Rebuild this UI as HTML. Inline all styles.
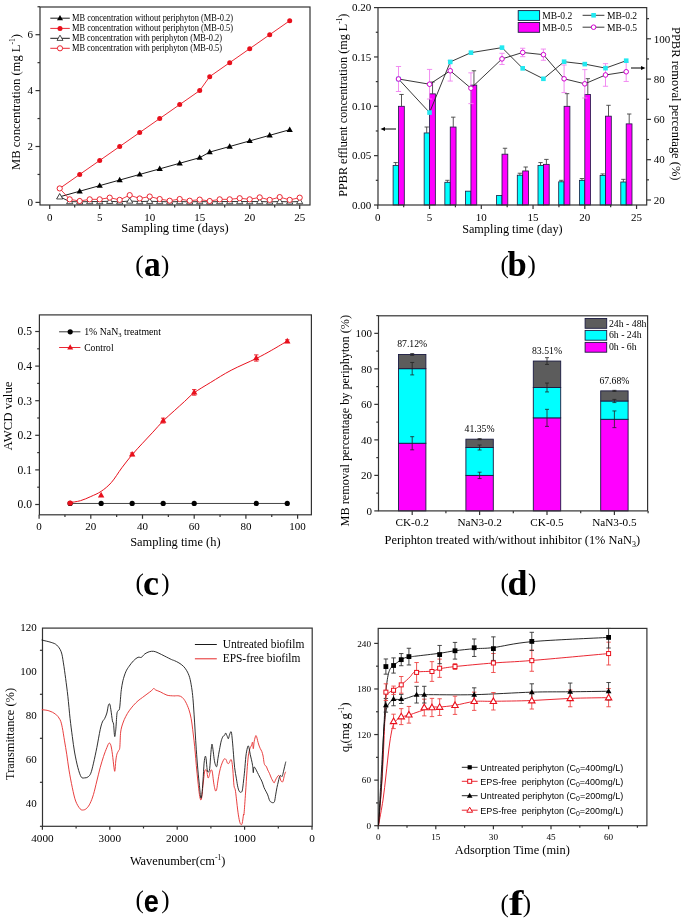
<!DOCTYPE html>
<html><head><meta charset="utf-8"><title>figure</title>
<style>html,body{margin:0;padding:0;background:#fff;}svg{display:block;will-change:transform;}
text{font-family:"Liberation Serif", serif;}</style></head>
<body><svg width="685" height="920" viewBox="0 0 685 920">
<rect x="0" y="0" width="685" height="920" fill="#fff"/>
<rect x="40" y="7" width="270" height="198" fill="none" stroke="#333" stroke-width="1.2"/>
<line x1="35.5" y1="202.4" x2="40" y2="202.4" stroke="#333" stroke-width="1.2"/>
<text x="33" y="206.1" font-size="11" text-anchor="end">0</text>
<line x1="37.5" y1="174.45" x2="40" y2="174.45" stroke="#333" stroke-width="1.2"/>
<line x1="35.5" y1="146.5" x2="40" y2="146.5" stroke="#333" stroke-width="1.2"/>
<text x="33" y="150.2" font-size="11" text-anchor="end">2</text>
<line x1="37.5" y1="118.55" x2="40" y2="118.55" stroke="#333" stroke-width="1.2"/>
<line x1="35.5" y1="90.6" x2="40" y2="90.6" stroke="#333" stroke-width="1.2"/>
<text x="33" y="94.3" font-size="11" text-anchor="end">4</text>
<line x1="37.5" y1="62.65" x2="40" y2="62.65" stroke="#333" stroke-width="1.2"/>
<line x1="35.5" y1="34.7" x2="40" y2="34.7" stroke="#333" stroke-width="1.2"/>
<text x="33" y="38.4" font-size="11" text-anchor="end">6</text>
<line x1="37.5" y1="6.75" x2="40" y2="6.75" stroke="#333" stroke-width="1.2"/>
<line x1="49.7" y1="205" x2="49.7" y2="209" stroke="#333" stroke-width="1.2"/>
<text x="49.7" y="221" font-size="11" text-anchor="middle">0</text>
<line x1="74.7" y1="205" x2="74.7" y2="207.5" stroke="#333" stroke-width="1.2"/>
<line x1="99.7" y1="205" x2="99.7" y2="209" stroke="#333" stroke-width="1.2"/>
<text x="99.7" y="221" font-size="11" text-anchor="middle">5</text>
<line x1="124.7" y1="205" x2="124.7" y2="207.5" stroke="#333" stroke-width="1.2"/>
<line x1="149.7" y1="205" x2="149.7" y2="209" stroke="#333" stroke-width="1.2"/>
<text x="149.7" y="221" font-size="11" text-anchor="middle">10</text>
<line x1="174.7" y1="205" x2="174.7" y2="207.5" stroke="#333" stroke-width="1.2"/>
<line x1="199.7" y1="205" x2="199.7" y2="209" stroke="#333" stroke-width="1.2"/>
<text x="199.7" y="221" font-size="11" text-anchor="middle">15</text>
<line x1="224.7" y1="205" x2="224.7" y2="207.5" stroke="#333" stroke-width="1.2"/>
<line x1="249.7" y1="205" x2="249.7" y2="209" stroke="#333" stroke-width="1.2"/>
<text x="249.7" y="221" font-size="11" text-anchor="middle">20</text>
<line x1="274.7" y1="205" x2="274.7" y2="207.5" stroke="#333" stroke-width="1.2"/>
<line x1="299.7" y1="205" x2="299.7" y2="209" stroke="#333" stroke-width="1.2"/>
<text x="299.7" y="221" font-size="11" text-anchor="middle">25</text>
<text x="175" y="232.3" font-size="12.5" text-anchor="middle" textLength="107.5" lengthAdjust="spacingAndGlyphs">Sampling time (days)</text>
<text x="0" y="0" font-size="12.6" transform="translate(19.6 170) rotate(-90)">MB concentration (mg L<tspan font-size="7.5" dy="-5">-1</tspan><tspan dy="5">)</tspan></text>
<polyline points="59.7,196.81 79.7,191.22 99.7,185.63 119.7,180.04 139.7,174.45 159.7,168.86 179.7,163.27 199.7,157.68 209.7,152.09 229.7,146.5 249.7,140.91 269.7,135.32 289.7,129.73" fill="none" stroke="#000" stroke-width="0.9" stroke-linejoin="round"/>
<polygon points="59.7,193.57 62.8,198.97 56.6,198.97" fill="#000" stroke="none" stroke-width="1" stroke-linejoin="miter"/>
<polygon points="79.7,187.98 82.8,193.38 76.6,193.38" fill="#000" stroke="none" stroke-width="1" stroke-linejoin="miter"/>
<polygon points="99.7,182.39 102.8,187.79 96.6,187.79" fill="#000" stroke="none" stroke-width="1" stroke-linejoin="miter"/>
<polygon points="119.7,176.8 122.8,182.2 116.6,182.2" fill="#000" stroke="none" stroke-width="1" stroke-linejoin="miter"/>
<polygon points="139.7,171.21 142.8,176.61 136.6,176.61" fill="#000" stroke="none" stroke-width="1" stroke-linejoin="miter"/>
<polygon points="159.7,165.62 162.8,171.02 156.6,171.02" fill="#000" stroke="none" stroke-width="1" stroke-linejoin="miter"/>
<polygon points="179.7,160.03 182.8,165.43 176.6,165.43" fill="#000" stroke="none" stroke-width="1" stroke-linejoin="miter"/>
<polygon points="199.7,154.44 202.8,159.84 196.6,159.84" fill="#000" stroke="none" stroke-width="1" stroke-linejoin="miter"/>
<polygon points="209.7,148.85 212.8,154.25 206.6,154.25" fill="#000" stroke="none" stroke-width="1" stroke-linejoin="miter"/>
<polygon points="229.7,143.26 232.8,148.66 226.6,148.66" fill="#000" stroke="none" stroke-width="1" stroke-linejoin="miter"/>
<polygon points="249.7,137.67 252.8,143.07 246.6,143.07" fill="#000" stroke="none" stroke-width="1" stroke-linejoin="miter"/>
<polygon points="269.7,132.08 272.8,137.48 266.6,137.48" fill="#000" stroke="none" stroke-width="1" stroke-linejoin="miter"/>
<polygon points="289.7,126.49 292.8,131.89 286.6,131.89" fill="#000" stroke="none" stroke-width="1" stroke-linejoin="miter"/>
<polyline points="59.7,188.43 79.7,174.45 99.7,160.48 119.7,146.5 139.7,132.53 159.7,118.55 179.7,104.58 199.7,90.6 209.7,76.63 229.7,62.65 249.7,48.68 269.7,34.7 289.7,20.73" fill="none" stroke="#e8101c" stroke-width="0.9" stroke-linejoin="round"/>
<circle cx="59.7" cy="188.43" r="2.5" fill="#e8101c" stroke="none" stroke-width="1"/>
<circle cx="79.7" cy="174.45" r="2.5" fill="#e8101c" stroke="none" stroke-width="1"/>
<circle cx="99.7" cy="160.48" r="2.5" fill="#e8101c" stroke="none" stroke-width="1"/>
<circle cx="119.7" cy="146.5" r="2.5" fill="#e8101c" stroke="none" stroke-width="1"/>
<circle cx="139.7" cy="132.53" r="2.5" fill="#e8101c" stroke="none" stroke-width="1"/>
<circle cx="159.7" cy="118.55" r="2.5" fill="#e8101c" stroke="none" stroke-width="1"/>
<circle cx="179.7" cy="104.58" r="2.5" fill="#e8101c" stroke="none" stroke-width="1"/>
<circle cx="199.7" cy="90.6" r="2.5" fill="#e8101c" stroke="none" stroke-width="1"/>
<circle cx="209.7" cy="76.63" r="2.5" fill="#e8101c" stroke="none" stroke-width="1"/>
<circle cx="229.7" cy="62.65" r="2.5" fill="#e8101c" stroke="none" stroke-width="1"/>
<circle cx="249.7" cy="48.68" r="2.5" fill="#e8101c" stroke="none" stroke-width="1"/>
<circle cx="269.7" cy="34.7" r="2.5" fill="#e8101c" stroke="none" stroke-width="1"/>
<circle cx="289.7" cy="20.73" r="2.5" fill="#e8101c" stroke="none" stroke-width="1"/>
<polyline points="59.7,196.81 69.7,201.56 79.7,201.84 89.7,201.56 99.7,201.56 109.7,201.28 119.7,201.84 129.7,201 139.7,201.56 149.7,201.28 159.7,201.56 169.7,201.84 179.7,201.56 189.7,201.84 199.7,201.56 209.7,201.84 219.7,201.56 229.7,201.56 239.7,201.56 249.7,201.56 259.7,201.56 269.7,201.84 279.7,201.56 289.7,201.84 299.7,201.56" fill="none" stroke="#000" stroke-width="0.8" stroke-linejoin="round"/>
<polygon points="59.7,193.57 62.8,198.97 56.6,198.97" fill="#fff" stroke="#222" stroke-width="0.8" stroke-linejoin="miter"/>
<polygon points="69.7,198.33 72.8,203.72 66.6,203.72" fill="#fff" stroke="#222" stroke-width="0.8" stroke-linejoin="miter"/>
<polygon points="79.7,198.6 82.8,204 76.6,204" fill="#fff" stroke="#222" stroke-width="0.8" stroke-linejoin="miter"/>
<polygon points="89.7,198.33 92.8,203.72 86.6,203.72" fill="#fff" stroke="#222" stroke-width="0.8" stroke-linejoin="miter"/>
<polygon points="99.7,198.33 102.8,203.72 96.6,203.72" fill="#fff" stroke="#222" stroke-width="0.8" stroke-linejoin="miter"/>
<polygon points="109.7,198.05 112.8,203.44 106.6,203.44" fill="#fff" stroke="#222" stroke-width="0.8" stroke-linejoin="miter"/>
<polygon points="119.7,198.6 122.8,204 116.6,204" fill="#fff" stroke="#222" stroke-width="0.8" stroke-linejoin="miter"/>
<polygon points="129.7,197.77 132.8,203.16 126.6,203.16" fill="#fff" stroke="#222" stroke-width="0.8" stroke-linejoin="miter"/>
<polygon points="139.7,198.33 142.8,203.72 136.6,203.72" fill="#fff" stroke="#222" stroke-width="0.8" stroke-linejoin="miter"/>
<polygon points="149.7,198.05 152.8,203.44 146.6,203.44" fill="#fff" stroke="#222" stroke-width="0.8" stroke-linejoin="miter"/>
<polygon points="159.7,198.33 162.8,203.72 156.6,203.72" fill="#fff" stroke="#222" stroke-width="0.8" stroke-linejoin="miter"/>
<polygon points="169.7,198.6 172.8,204 166.6,204" fill="#fff" stroke="#222" stroke-width="0.8" stroke-linejoin="miter"/>
<polygon points="179.7,198.33 182.8,203.72 176.6,203.72" fill="#fff" stroke="#222" stroke-width="0.8" stroke-linejoin="miter"/>
<polygon points="189.7,198.6 192.8,204 186.6,204" fill="#fff" stroke="#222" stroke-width="0.8" stroke-linejoin="miter"/>
<polygon points="199.7,198.33 202.8,203.72 196.6,203.72" fill="#fff" stroke="#222" stroke-width="0.8" stroke-linejoin="miter"/>
<polygon points="209.7,198.6 212.8,204 206.6,204" fill="#fff" stroke="#222" stroke-width="0.8" stroke-linejoin="miter"/>
<polygon points="219.7,198.33 222.8,203.72 216.6,203.72" fill="#fff" stroke="#222" stroke-width="0.8" stroke-linejoin="miter"/>
<polygon points="229.7,198.33 232.8,203.72 226.6,203.72" fill="#fff" stroke="#222" stroke-width="0.8" stroke-linejoin="miter"/>
<polygon points="239.7,198.33 242.8,203.72 236.6,203.72" fill="#fff" stroke="#222" stroke-width="0.8" stroke-linejoin="miter"/>
<polygon points="249.7,198.33 252.8,203.72 246.6,203.72" fill="#fff" stroke="#222" stroke-width="0.8" stroke-linejoin="miter"/>
<polygon points="259.7,198.33 262.8,203.72 256.6,203.72" fill="#fff" stroke="#222" stroke-width="0.8" stroke-linejoin="miter"/>
<polygon points="269.7,198.6 272.8,204 266.6,204" fill="#fff" stroke="#222" stroke-width="0.8" stroke-linejoin="miter"/>
<polygon points="279.7,198.33 282.8,203.72 276.6,203.72" fill="#fff" stroke="#222" stroke-width="0.8" stroke-linejoin="miter"/>
<polygon points="289.7,198.6 292.8,204 286.6,204" fill="#fff" stroke="#222" stroke-width="0.8" stroke-linejoin="miter"/>
<polygon points="299.7,198.33 302.8,203.72 296.6,203.72" fill="#fff" stroke="#222" stroke-width="0.8" stroke-linejoin="miter"/>
<polyline points="59.7,188.43 69.7,199.33 79.7,201 89.7,199.33 99.7,199.33 109.7,197.65 119.7,199.88 129.7,195.13 139.7,198.49 149.7,196.53 159.7,199.05 169.7,200.72 179.7,199.05 189.7,200.72 199.7,199.61 209.7,201 219.7,199.33 229.7,199.33 239.7,198.21 249.7,199.33 259.7,197.37 269.7,199.88 279.7,197.09 289.7,199.88 299.7,197.65" fill="none" stroke="#e8101c" stroke-width="0.8" stroke-linejoin="round"/>
<circle cx="59.7" cy="188.43" r="2.6" fill="#fff" stroke="#e8101c" stroke-width="0.9"/>
<circle cx="69.7" cy="199.33" r="2.6" fill="#fff" stroke="#e8101c" stroke-width="0.9"/>
<circle cx="79.7" cy="201" r="2.6" fill="#fff" stroke="#e8101c" stroke-width="0.9"/>
<circle cx="89.7" cy="199.33" r="2.6" fill="#fff" stroke="#e8101c" stroke-width="0.9"/>
<circle cx="99.7" cy="199.33" r="2.6" fill="#fff" stroke="#e8101c" stroke-width="0.9"/>
<circle cx="109.7" cy="197.65" r="2.6" fill="#fff" stroke="#e8101c" stroke-width="0.9"/>
<circle cx="119.7" cy="199.88" r="2.6" fill="#fff" stroke="#e8101c" stroke-width="0.9"/>
<circle cx="129.7" cy="195.13" r="2.6" fill="#fff" stroke="#e8101c" stroke-width="0.9"/>
<circle cx="139.7" cy="198.49" r="2.6" fill="#fff" stroke="#e8101c" stroke-width="0.9"/>
<circle cx="149.7" cy="196.53" r="2.6" fill="#fff" stroke="#e8101c" stroke-width="0.9"/>
<circle cx="159.7" cy="199.05" r="2.6" fill="#fff" stroke="#e8101c" stroke-width="0.9"/>
<circle cx="169.7" cy="200.72" r="2.6" fill="#fff" stroke="#e8101c" stroke-width="0.9"/>
<circle cx="179.7" cy="199.05" r="2.6" fill="#fff" stroke="#e8101c" stroke-width="0.9"/>
<circle cx="189.7" cy="200.72" r="2.6" fill="#fff" stroke="#e8101c" stroke-width="0.9"/>
<circle cx="199.7" cy="199.61" r="2.6" fill="#fff" stroke="#e8101c" stroke-width="0.9"/>
<circle cx="209.7" cy="201" r="2.6" fill="#fff" stroke="#e8101c" stroke-width="0.9"/>
<circle cx="219.7" cy="199.33" r="2.6" fill="#fff" stroke="#e8101c" stroke-width="0.9"/>
<circle cx="229.7" cy="199.33" r="2.6" fill="#fff" stroke="#e8101c" stroke-width="0.9"/>
<circle cx="239.7" cy="198.21" r="2.6" fill="#fff" stroke="#e8101c" stroke-width="0.9"/>
<circle cx="249.7" cy="199.33" r="2.6" fill="#fff" stroke="#e8101c" stroke-width="0.9"/>
<circle cx="259.7" cy="197.37" r="2.6" fill="#fff" stroke="#e8101c" stroke-width="0.9"/>
<circle cx="269.7" cy="199.88" r="2.6" fill="#fff" stroke="#e8101c" stroke-width="0.9"/>
<circle cx="279.7" cy="197.09" r="2.6" fill="#fff" stroke="#e8101c" stroke-width="0.9"/>
<circle cx="289.7" cy="199.88" r="2.6" fill="#fff" stroke="#e8101c" stroke-width="0.9"/>
<circle cx="299.7" cy="197.65" r="2.6" fill="#fff" stroke="#e8101c" stroke-width="0.9"/>
<line x1="50.3" y1="18.2" x2="69.8" y2="18.2" stroke="#000" stroke-width="0.9"/>
<polygon points="60,15.07 63,20.29 57,20.29" fill="#000" stroke="none" stroke-width="1" stroke-linejoin="miter"/>
<text x="72" y="20.6" font-size="9.7" textLength="161" lengthAdjust="spacingAndGlyphs">MB concentration without periphyton (MB-0.2)</text>
<line x1="50.3" y1="28.4" x2="69.8" y2="28.4" stroke="#e8101c" stroke-width="0.9"/>
<circle cx="60" cy="28.4" r="2.5" fill="#e8101c" stroke="none" stroke-width="1"/>
<text x="72" y="30.8" font-size="9.7" textLength="161" lengthAdjust="spacingAndGlyphs">MB concentration without periphyton (MB-0.5)</text>
<line x1="50.3" y1="38.3" x2="69.8" y2="38.3" stroke="#000" stroke-width="0.9"/>
<polygon points="60,35.17 63,40.39 57,40.39" fill="#fff" stroke="#222" stroke-width="0.8" stroke-linejoin="miter"/>
<text x="72" y="40.7" font-size="9.7" textLength="150" lengthAdjust="spacingAndGlyphs">MB concentration with periphyton (MB-0.2)</text>
<line x1="50.3" y1="48.3" x2="69.8" y2="48.3" stroke="#e8101c" stroke-width="0.9"/>
<circle cx="60" cy="48.3" r="2.6" fill="#fff" stroke="#e8101c" stroke-width="0.9"/>
<text x="72" y="50.7" font-size="9.7" textLength="150" lengthAdjust="spacingAndGlyphs">MB concentration with periphyton (MB-0.5)</text>
<text x="135.2" y="273.3" font-size="25">(</text>
<text x="161" y="273.3" font-size="25">)</text>
<text x="0" y="0" font-size="36" font-weight="bold" transform="translate(143.9 276) scale(0.93 1)">a</text>
<rect x="393.1" y="165.52" width="5.4" height="39.48" fill="#00ffff" stroke="#1a1a40" stroke-width="0.8"/>
<rect x="398.5" y="106.3" width="5.8" height="98.7" fill="#ff00ff" stroke="#1a1a40" stroke-width="0.8"/>
<line x1="395.65" y1="165.52" x2="395.65" y2="162.56" stroke="#444" stroke-width="0.9"/>
<line x1="393.5" y1="162.56" x2="397.8" y2="162.56" stroke="#444" stroke-width="0.9"/>
<line x1="401.5" y1="106.3" x2="401.5" y2="94.46" stroke="#444" stroke-width="0.9"/>
<line x1="399.3" y1="94.46" x2="403.7" y2="94.46" stroke="#444" stroke-width="0.9"/>
<rect x="424.15" y="132.95" width="5.4" height="72.05" fill="#00ffff" stroke="#1a1a40" stroke-width="0.8"/>
<rect x="429.55" y="93.86" width="5.8" height="111.14" fill="#ff00ff" stroke="#1a1a40" stroke-width="0.8"/>
<line x1="426.7" y1="132.95" x2="426.7" y2="127.03" stroke="#444" stroke-width="0.9"/>
<line x1="424.55" y1="127.03" x2="428.85" y2="127.03" stroke="#444" stroke-width="0.9"/>
<line x1="432.55" y1="93.86" x2="432.55" y2="82.02" stroke="#444" stroke-width="0.9"/>
<line x1="430.35" y1="82.02" x2="434.75" y2="82.02" stroke="#444" stroke-width="0.9"/>
<rect x="444.85" y="182.3" width="5.4" height="22.7" fill="#00ffff" stroke="#1a1a40" stroke-width="0.8"/>
<rect x="450.25" y="127.03" width="5.8" height="77.97" fill="#ff00ff" stroke="#1a1a40" stroke-width="0.8"/>
<line x1="447.4" y1="182.3" x2="447.4" y2="180.32" stroke="#444" stroke-width="0.9"/>
<line x1="445.25" y1="180.32" x2="449.55" y2="180.32" stroke="#444" stroke-width="0.9"/>
<line x1="453.25" y1="127.03" x2="453.25" y2="117.16" stroke="#444" stroke-width="0.9"/>
<line x1="451.05" y1="117.16" x2="455.45" y2="117.16" stroke="#444" stroke-width="0.9"/>
<rect x="465.55" y="191.18" width="5.4" height="13.82" fill="#00ffff" stroke="#1a1a40" stroke-width="0.8"/>
<rect x="470.95" y="85.08" width="5.8" height="119.92" fill="#ff00ff" stroke="#1a1a40" stroke-width="0.8"/>
<line x1="473.95" y1="85.08" x2="473.95" y2="70.77" stroke="#444" stroke-width="0.9"/>
<line x1="471.75" y1="70.77" x2="476.15" y2="70.77" stroke="#444" stroke-width="0.9"/>
<rect x="496.6" y="195.52" width="5.4" height="9.48" fill="#00ffff" stroke="#1a1a40" stroke-width="0.8"/>
<rect x="502" y="154.17" width="5.8" height="50.83" fill="#ff00ff" stroke="#1a1a40" stroke-width="0.8"/>
<line x1="505" y1="154.17" x2="505" y2="148.25" stroke="#444" stroke-width="0.9"/>
<line x1="502.8" y1="148.25" x2="507.2" y2="148.25" stroke="#444" stroke-width="0.9"/>
<rect x="517.3" y="175.19" width="5.4" height="29.81" fill="#00ffff" stroke="#1a1a40" stroke-width="0.8"/>
<rect x="522.7" y="170.95" width="5.8" height="34.05" fill="#ff00ff" stroke="#1a1a40" stroke-width="0.8"/>
<line x1="519.85" y1="175.19" x2="519.85" y2="173.22" stroke="#444" stroke-width="0.9"/>
<line x1="517.7" y1="173.22" x2="522" y2="173.22" stroke="#444" stroke-width="0.9"/>
<line x1="525.7" y1="170.95" x2="525.7" y2="167" stroke="#444" stroke-width="0.9"/>
<line x1="523.5" y1="167" x2="527.9" y2="167" stroke="#444" stroke-width="0.9"/>
<rect x="538" y="165.52" width="5.4" height="39.48" fill="#00ffff" stroke="#1a1a40" stroke-width="0.8"/>
<rect x="543.4" y="164.34" width="5.8" height="40.66" fill="#ff00ff" stroke="#1a1a40" stroke-width="0.8"/>
<line x1="540.55" y1="165.52" x2="540.55" y2="162.56" stroke="#444" stroke-width="0.9"/>
<line x1="538.4" y1="162.56" x2="542.7" y2="162.56" stroke="#444" stroke-width="0.9"/>
<line x1="546.4" y1="164.34" x2="546.4" y2="159.4" stroke="#444" stroke-width="0.9"/>
<line x1="544.2" y1="159.4" x2="548.6" y2="159.4" stroke="#444" stroke-width="0.9"/>
<rect x="558.7" y="181.81" width="5.4" height="23.19" fill="#00ffff" stroke="#1a1a40" stroke-width="0.8"/>
<rect x="564.1" y="106.3" width="5.8" height="98.7" fill="#ff00ff" stroke="#1a1a40" stroke-width="0.8"/>
<line x1="561.25" y1="181.81" x2="561.25" y2="180.32" stroke="#444" stroke-width="0.9"/>
<line x1="559.1" y1="180.32" x2="563.4" y2="180.32" stroke="#444" stroke-width="0.9"/>
<line x1="567.1" y1="106.3" x2="567.1" y2="93.67" stroke="#444" stroke-width="0.9"/>
<line x1="564.9" y1="93.67" x2="569.3" y2="93.67" stroke="#444" stroke-width="0.9"/>
<rect x="579.4" y="180.32" width="5.4" height="24.68" fill="#00ffff" stroke="#1a1a40" stroke-width="0.8"/>
<rect x="584.8" y="94.46" width="5.8" height="110.54" fill="#ff00ff" stroke="#1a1a40" stroke-width="0.8"/>
<line x1="581.95" y1="180.32" x2="581.95" y2="178.55" stroke="#444" stroke-width="0.9"/>
<line x1="579.8" y1="178.55" x2="584.1" y2="178.55" stroke="#444" stroke-width="0.9"/>
<line x1="587.8" y1="94.46" x2="587.8" y2="78.66" stroke="#444" stroke-width="0.9"/>
<line x1="585.6" y1="78.66" x2="590" y2="78.66" stroke="#444" stroke-width="0.9"/>
<rect x="600.1" y="175.39" width="5.4" height="29.61" fill="#00ffff" stroke="#1a1a40" stroke-width="0.8"/>
<rect x="605.5" y="116.17" width="5.8" height="88.83" fill="#ff00ff" stroke="#1a1a40" stroke-width="0.8"/>
<line x1="602.65" y1="175.39" x2="602.65" y2="173.91" stroke="#444" stroke-width="0.9"/>
<line x1="600.5" y1="173.91" x2="604.8" y2="173.91" stroke="#444" stroke-width="0.9"/>
<line x1="608.5" y1="116.17" x2="608.5" y2="105.31" stroke="#444" stroke-width="0.9"/>
<line x1="606.3" y1="105.31" x2="610.7" y2="105.31" stroke="#444" stroke-width="0.9"/>
<rect x="620.8" y="182" width="5.4" height="23" fill="#00ffff" stroke="#1a1a40" stroke-width="0.8"/>
<rect x="626.2" y="123.87" width="5.8" height="81.13" fill="#ff00ff" stroke="#1a1a40" stroke-width="0.8"/>
<line x1="623.35" y1="182" x2="623.35" y2="179.34" stroke="#444" stroke-width="0.9"/>
<line x1="621.2" y1="179.34" x2="625.5" y2="179.34" stroke="#444" stroke-width="0.9"/>
<line x1="629.2" y1="123.87" x2="629.2" y2="114" stroke="#444" stroke-width="0.9"/>
<line x1="627" y1="114" x2="631.4" y2="114" stroke="#444" stroke-width="0.9"/>
<line x1="398.5" y1="66.49" x2="398.5" y2="91.49" stroke="#f080f0" stroke-width="0.9"/>
<line x1="395.9" y1="66.49" x2="401.1" y2="66.49" stroke="#f080f0" stroke-width="0.9"/>
<line x1="395.9" y1="91.49" x2="401.1" y2="91.49" stroke="#f080f0" stroke-width="0.9"/>
<line x1="429.55" y1="69.42" x2="429.55" y2="99.02" stroke="#f080f0" stroke-width="0.9"/>
<line x1="426.95" y1="69.42" x2="432.15" y2="69.42" stroke="#f080f0" stroke-width="0.9"/>
<line x1="426.95" y1="99.02" x2="432.15" y2="99.02" stroke="#f080f0" stroke-width="0.9"/>
<line x1="450.25" y1="60.45" x2="450.25" y2="81.05" stroke="#f080f0" stroke-width="0.9"/>
<line x1="447.65" y1="60.45" x2="452.85" y2="60.45" stroke="#f080f0" stroke-width="0.9"/>
<line x1="447.65" y1="81.05" x2="452.85" y2="81.05" stroke="#f080f0" stroke-width="0.9"/>
<line x1="470.95" y1="72.84" x2="470.95" y2="103.64" stroke="#f080f0" stroke-width="0.9"/>
<line x1="468.35" y1="72.84" x2="473.55" y2="72.84" stroke="#f080f0" stroke-width="0.9"/>
<line x1="468.35" y1="103.64" x2="473.55" y2="103.64" stroke="#f080f0" stroke-width="0.9"/>
<line x1="502" y1="53.29" x2="502" y2="64.49" stroke="#f080f0" stroke-width="0.9"/>
<line x1="499.4" y1="53.29" x2="504.6" y2="53.29" stroke="#f080f0" stroke-width="0.9"/>
<line x1="499.4" y1="64.49" x2="504.6" y2="64.49" stroke="#f080f0" stroke-width="0.9"/>
<line x1="522.7" y1="48.26" x2="522.7" y2="56.66" stroke="#f080f0" stroke-width="0.9"/>
<line x1="520.1" y1="48.26" x2="525.3" y2="48.26" stroke="#f080f0" stroke-width="0.9"/>
<line x1="520.1" y1="56.66" x2="525.3" y2="56.66" stroke="#f080f0" stroke-width="0.9"/>
<line x1="543.4" y1="49.07" x2="543.4" y2="60.27" stroke="#f080f0" stroke-width="0.9"/>
<line x1="540.8" y1="49.07" x2="546" y2="49.07" stroke="#f080f0" stroke-width="0.9"/>
<line x1="540.8" y1="60.27" x2="546" y2="60.27" stroke="#f080f0" stroke-width="0.9"/>
<line x1="564.1" y1="64.99" x2="564.1" y2="92.59" stroke="#f080f0" stroke-width="0.9"/>
<line x1="561.5" y1="64.99" x2="566.7" y2="64.99" stroke="#f080f0" stroke-width="0.9"/>
<line x1="561.5" y1="92.59" x2="566.7" y2="92.59" stroke="#f080f0" stroke-width="0.9"/>
<line x1="584.8" y1="69.62" x2="584.8" y2="98.02" stroke="#f080f0" stroke-width="0.9"/>
<line x1="582.2" y1="69.62" x2="587.4" y2="69.62" stroke="#f080f0" stroke-width="0.9"/>
<line x1="582.2" y1="98.02" x2="587.4" y2="98.02" stroke="#f080f0" stroke-width="0.9"/>
<line x1="605.5" y1="63.67" x2="605.5" y2="86.27" stroke="#f080f0" stroke-width="0.9"/>
<line x1="602.9" y1="63.67" x2="608.1" y2="63.67" stroke="#f080f0" stroke-width="0.9"/>
<line x1="602.9" y1="86.27" x2="608.1" y2="86.27" stroke="#f080f0" stroke-width="0.9"/>
<line x1="626.2" y1="62.06" x2="626.2" y2="81.46" stroke="#f080f0" stroke-width="0.9"/>
<line x1="623.6" y1="62.06" x2="628.8" y2="62.06" stroke="#f080f0" stroke-width="0.9"/>
<line x1="623.6" y1="81.46" x2="628.8" y2="81.46" stroke="#f080f0" stroke-width="0.9"/>
<polyline points="398.5,78.99 429.55,112.56 450.25,61.91 470.95,52.66 502,47.64 522.7,68.34 543.4,78.79 564.1,61.71 584.8,64.12 605.5,68.14 626.2,60.7" fill="none" stroke="#222" stroke-width="0.9" stroke-linejoin="round"/>
<polyline points="398.5,78.99 429.55,84.22 450.25,70.75 470.95,88.24 502,58.89 522.7,52.46 543.4,54.67 564.1,78.79 584.8,83.82 605.5,74.97 626.2,71.76" fill="none" stroke="#222" stroke-width="0.9" stroke-linejoin="round"/>
<rect x="396.2" y="76.69" width="4.6" height="4.6" fill="#22e8f0" stroke="none" stroke-width="1"/>
<rect x="427.25" y="110.26" width="4.6" height="4.6" fill="#22e8f0" stroke="none" stroke-width="1"/>
<rect x="447.95" y="59.61" width="4.6" height="4.6" fill="#22e8f0" stroke="none" stroke-width="1"/>
<rect x="468.65" y="50.36" width="4.6" height="4.6" fill="#22e8f0" stroke="none" stroke-width="1"/>
<rect x="499.7" y="45.34" width="4.6" height="4.6" fill="#22e8f0" stroke="none" stroke-width="1"/>
<rect x="520.4" y="66.04" width="4.6" height="4.6" fill="#22e8f0" stroke="none" stroke-width="1"/>
<rect x="541.1" y="76.49" width="4.6" height="4.6" fill="#22e8f0" stroke="none" stroke-width="1"/>
<rect x="561.8" y="59.41" width="4.6" height="4.6" fill="#22e8f0" stroke="none" stroke-width="1"/>
<rect x="582.5" y="61.82" width="4.6" height="4.6" fill="#22e8f0" stroke="none" stroke-width="1"/>
<rect x="603.2" y="65.84" width="4.6" height="4.6" fill="#22e8f0" stroke="none" stroke-width="1"/>
<rect x="623.9" y="58.4" width="4.6" height="4.6" fill="#22e8f0" stroke="none" stroke-width="1"/>
<circle cx="398.5" cy="78.99" r="2.3" fill="#fff" stroke="#d000d0" stroke-width="1"/>
<circle cx="429.55" cy="84.22" r="2.3" fill="#fff" stroke="#d000d0" stroke-width="1"/>
<circle cx="450.25" cy="70.75" r="2.3" fill="#fff" stroke="#d000d0" stroke-width="1"/>
<circle cx="470.95" cy="88.24" r="2.3" fill="#fff" stroke="#d000d0" stroke-width="1"/>
<circle cx="502" cy="58.89" r="2.3" fill="#fff" stroke="#d000d0" stroke-width="1"/>
<circle cx="522.7" cy="52.46" r="2.3" fill="#fff" stroke="#d000d0" stroke-width="1"/>
<circle cx="543.4" cy="54.67" r="2.3" fill="#fff" stroke="#d000d0" stroke-width="1"/>
<circle cx="564.1" cy="78.79" r="2.3" fill="#fff" stroke="#d000d0" stroke-width="1"/>
<circle cx="584.8" cy="83.82" r="2.3" fill="#fff" stroke="#d000d0" stroke-width="1"/>
<circle cx="605.5" cy="74.97" r="2.3" fill="#fff" stroke="#d000d0" stroke-width="1"/>
<circle cx="626.2" cy="71.76" r="2.3" fill="#fff" stroke="#d000d0" stroke-width="1"/>
<rect x="378" y="7.6" width="268.7" height="197.4" fill="none" stroke="#333" stroke-width="1.2"/>
<line x1="374" y1="205" x2="378" y2="205" stroke="#333" stroke-width="1.2"/>
<text x="371.2" y="208.7" font-size="11" text-anchor="end">0.00</text>
<line x1="375.8" y1="180.32" x2="378" y2="180.32" stroke="#333" stroke-width="1.2"/>
<line x1="374" y1="155.65" x2="378" y2="155.65" stroke="#333" stroke-width="1.2"/>
<text x="371.2" y="159.35" font-size="11" text-anchor="end">0.05</text>
<line x1="375.8" y1="130.97" x2="378" y2="130.97" stroke="#333" stroke-width="1.2"/>
<line x1="374" y1="106.3" x2="378" y2="106.3" stroke="#333" stroke-width="1.2"/>
<text x="371.2" y="110" font-size="11" text-anchor="end">0.10</text>
<line x1="375.8" y1="81.62" x2="378" y2="81.62" stroke="#333" stroke-width="1.2"/>
<line x1="374" y1="56.95" x2="378" y2="56.95" stroke="#333" stroke-width="1.2"/>
<text x="371.2" y="60.65" font-size="11" text-anchor="end">0.15</text>
<line x1="375.8" y1="32.27" x2="378" y2="32.27" stroke="#333" stroke-width="1.2"/>
<line x1="374" y1="7.6" x2="378" y2="7.6" stroke="#333" stroke-width="1.2"/>
<text x="371.2" y="11.3" font-size="11" text-anchor="end">0.20</text>
<line x1="646.7" y1="200" x2="651" y2="200" stroke="#333" stroke-width="1.2"/>
<text x="653.8" y="203.7" font-size="11">20</text>
<line x1="646.7" y1="179.85" x2="649" y2="179.85" stroke="#333" stroke-width="1.2"/>
<line x1="646.7" y1="159.7" x2="651" y2="159.7" stroke="#333" stroke-width="1.2"/>
<text x="653.8" y="163.4" font-size="11">40</text>
<line x1="646.7" y1="139.55" x2="649" y2="139.55" stroke="#333" stroke-width="1.2"/>
<line x1="646.7" y1="119.4" x2="651" y2="119.4" stroke="#333" stroke-width="1.2"/>
<text x="653.8" y="123.1" font-size="11">60</text>
<line x1="646.7" y1="99.25" x2="649" y2="99.25" stroke="#333" stroke-width="1.2"/>
<line x1="646.7" y1="79.1" x2="651" y2="79.1" stroke="#333" stroke-width="1.2"/>
<text x="653.8" y="82.8" font-size="11">80</text>
<line x1="646.7" y1="58.95" x2="649" y2="58.95" stroke="#333" stroke-width="1.2"/>
<line x1="646.7" y1="38.8" x2="651" y2="38.8" stroke="#333" stroke-width="1.2"/>
<text x="653.8" y="42.5" font-size="11">100</text>
<line x1="646.7" y1="18.65" x2="649" y2="18.65" stroke="#333" stroke-width="1.2"/>
<line x1="377.8" y1="205" x2="377.8" y2="209" stroke="#333" stroke-width="1.2"/>
<text x="377.8" y="220.7" font-size="11" text-anchor="middle">0</text>
<line x1="403.68" y1="205" x2="403.68" y2="207.3" stroke="#333" stroke-width="1.2"/>
<line x1="429.55" y1="205" x2="429.55" y2="209" stroke="#333" stroke-width="1.2"/>
<text x="429.55" y="220.7" font-size="11" text-anchor="middle">5</text>
<line x1="455.43" y1="205" x2="455.43" y2="207.3" stroke="#333" stroke-width="1.2"/>
<line x1="481.3" y1="205" x2="481.3" y2="209" stroke="#333" stroke-width="1.2"/>
<text x="481.3" y="220.7" font-size="11" text-anchor="middle">10</text>
<line x1="507.18" y1="205" x2="507.18" y2="207.3" stroke="#333" stroke-width="1.2"/>
<line x1="533.05" y1="205" x2="533.05" y2="209" stroke="#333" stroke-width="1.2"/>
<text x="533.05" y="220.7" font-size="11" text-anchor="middle">15</text>
<line x1="558.92" y1="205" x2="558.92" y2="207.3" stroke="#333" stroke-width="1.2"/>
<line x1="584.8" y1="205" x2="584.8" y2="209" stroke="#333" stroke-width="1.2"/>
<text x="584.8" y="220.7" font-size="11" text-anchor="middle">20</text>
<line x1="610.67" y1="205" x2="610.67" y2="207.3" stroke="#333" stroke-width="1.2"/>
<line x1="636.55" y1="205" x2="636.55" y2="209" stroke="#333" stroke-width="1.2"/>
<text x="636.55" y="220.7" font-size="11" text-anchor="middle">25</text>
<text x="512.4" y="233.2" font-size="12.3" text-anchor="middle" textLength="100.5" lengthAdjust="spacingAndGlyphs">Sampling time (day)</text>
<text x="0" y="0" font-size="12.2" transform="translate(347.2 196.8) rotate(-90)">PPBR effluent concentration (mg L<tspan font-size="7.3" dy="-5">-1</tspan><tspan dy="5">)</tspan></text>
<text x="671.9" y="27" font-size="12.5" textLength="153.5" lengthAdjust="spacingAndGlyphs" transform="rotate(90 671.9 27)">PPBR removal percentage (%)</text>
<line x1="383" y1="129" x2="396" y2="129" stroke="#000" stroke-width="1"/>
<polygon points="380.5,129 385,127 385,131" fill="#000"/>
<line x1="631" y1="68" x2="642" y2="68" stroke="#000" stroke-width="1"/>
<polygon points="645.5,68 641,66 641,70" fill="#000"/>
<rect x="518.2" y="10.6" width="21.4" height="9.8" fill="#00ffff" stroke="#1a1a40" stroke-width="0.9"/>
<rect x="518.2" y="22.5" width="21.4" height="9.8" fill="#ff00ff" stroke="#1a1a40" stroke-width="0.9"/>
<text x="542.3" y="18.9" font-size="9.7" textLength="30" lengthAdjust="spacingAndGlyphs">MB-0.2</text>
<text x="542.3" y="30.8" font-size="9.7" textLength="30" lengthAdjust="spacingAndGlyphs">MB-0.5</text>
<line x1="582.6" y1="15.3" x2="604.4" y2="15.3" stroke="#222" stroke-width="0.9"/>
<rect x="591.3" y="13" width="4.6" height="4.6" fill="#22e8f0" stroke="none" stroke-width="1"/>
<text x="607.1" y="18.9" font-size="9.7" textLength="30" lengthAdjust="spacingAndGlyphs">MB-0.2</text>
<line x1="582.6" y1="27.2" x2="604.4" y2="27.2" stroke="#222" stroke-width="0.9"/>
<circle cx="593.6" cy="27.2" r="2.3" fill="#fff" stroke="#d000d0" stroke-width="1"/>
<text x="607.1" y="30.8" font-size="9.7" textLength="30" lengthAdjust="spacingAndGlyphs">MB-0.5</text>
<text x="500.4" y="273.3" font-size="25">(</text>
<text x="527.6" y="273.3" font-size="25">)</text>
<text x="0" y="0" font-size="36" font-weight="bold" transform="translate(507.4 276.3) scale(0.96 1)">b</text>
<rect x="39.4" y="314.9" width="272" height="199.9" fill="none" stroke="#333" stroke-width="1.2"/>
<line x1="35.2" y1="504.5" x2="39.4" y2="504.5" stroke="#333" stroke-width="1.2"/>
<text x="32" y="508.3" font-size="11.6" text-anchor="end">0.0</text>
<line x1="37.2" y1="487.2" x2="39.4" y2="487.2" stroke="#333" stroke-width="1.2"/>
<line x1="35.2" y1="469.9" x2="39.4" y2="469.9" stroke="#333" stroke-width="1.2"/>
<text x="32" y="473.7" font-size="11.6" text-anchor="end">0.1</text>
<line x1="37.2" y1="452.6" x2="39.4" y2="452.6" stroke="#333" stroke-width="1.2"/>
<line x1="35.2" y1="435.3" x2="39.4" y2="435.3" stroke="#333" stroke-width="1.2"/>
<text x="32" y="439.1" font-size="11.6" text-anchor="end">0.2</text>
<line x1="37.2" y1="418" x2="39.4" y2="418" stroke="#333" stroke-width="1.2"/>
<line x1="35.2" y1="400.7" x2="39.4" y2="400.7" stroke="#333" stroke-width="1.2"/>
<text x="32" y="404.5" font-size="11.6" text-anchor="end">0.3</text>
<line x1="37.2" y1="383.4" x2="39.4" y2="383.4" stroke="#333" stroke-width="1.2"/>
<line x1="35.2" y1="366.1" x2="39.4" y2="366.1" stroke="#333" stroke-width="1.2"/>
<text x="32" y="369.9" font-size="11.6" text-anchor="end">0.4</text>
<line x1="37.2" y1="348.8" x2="39.4" y2="348.8" stroke="#333" stroke-width="1.2"/>
<line x1="35.2" y1="331.5" x2="39.4" y2="331.5" stroke="#333" stroke-width="1.2"/>
<text x="32" y="335.3" font-size="11.6" text-anchor="end">0.5</text>
<line x1="39.1" y1="514.8" x2="39.1" y2="518.8" stroke="#333" stroke-width="1.2"/>
<text x="39.1" y="530.4" font-size="11" text-anchor="middle">0</text>
<line x1="64.95" y1="514.8" x2="64.95" y2="517.1" stroke="#333" stroke-width="1.2"/>
<line x1="90.8" y1="514.8" x2="90.8" y2="518.8" stroke="#333" stroke-width="1.2"/>
<text x="90.8" y="530.4" font-size="11" text-anchor="middle">20</text>
<line x1="116.65" y1="514.8" x2="116.65" y2="517.1" stroke="#333" stroke-width="1.2"/>
<line x1="142.5" y1="514.8" x2="142.5" y2="518.8" stroke="#333" stroke-width="1.2"/>
<text x="142.5" y="530.4" font-size="11" text-anchor="middle">40</text>
<line x1="168.35" y1="514.8" x2="168.35" y2="517.1" stroke="#333" stroke-width="1.2"/>
<line x1="194.2" y1="514.8" x2="194.2" y2="518.8" stroke="#333" stroke-width="1.2"/>
<text x="194.2" y="530.4" font-size="11" text-anchor="middle">60</text>
<line x1="220.05" y1="514.8" x2="220.05" y2="517.1" stroke="#333" stroke-width="1.2"/>
<line x1="245.9" y1="514.8" x2="245.9" y2="518.8" stroke="#333" stroke-width="1.2"/>
<text x="245.9" y="530.4" font-size="11" text-anchor="middle">80</text>
<line x1="271.75" y1="514.8" x2="271.75" y2="517.1" stroke="#333" stroke-width="1.2"/>
<line x1="297.6" y1="514.8" x2="297.6" y2="518.8" stroke="#333" stroke-width="1.2"/>
<text x="297.6" y="530.4" font-size="11" text-anchor="middle">100</text>
<text x="175.4" y="546.4" font-size="12.4" text-anchor="middle" textLength="90.4" lengthAdjust="spacingAndGlyphs">Sampling time (h)</text>
<text x="12.4" y="416" font-size="12.6" text-anchor="middle" textLength="69" lengthAdjust="spacingAndGlyphs" transform="rotate(-90 12.4 416)">AWCD value</text>
<polyline points="70.12,503.46 101.14,503.46 132.16,503.46 163.18,503.46 194.2,503.46 256.24,503.46 287.26,503.46" fill="none" stroke="#444" stroke-width="1" stroke-linejoin="round"/>
<circle cx="70.12" cy="503.46" r="2.6" fill="#000" stroke="none" stroke-width="1"/>
<circle cx="101.14" cy="503.46" r="2.6" fill="#000" stroke="none" stroke-width="1"/>
<circle cx="132.16" cy="503.46" r="2.6" fill="#000" stroke="none" stroke-width="1"/>
<circle cx="163.18" cy="503.46" r="2.6" fill="#000" stroke="none" stroke-width="1"/>
<circle cx="194.2" cy="503.46" r="2.6" fill="#000" stroke="none" stroke-width="1"/>
<circle cx="256.24" cy="503.46" r="2.6" fill="#000" stroke="none" stroke-width="1"/>
<circle cx="287.26" cy="503.46" r="2.6" fill="#000" stroke="none" stroke-width="1"/>
<path d="M70.12,502.6 C71.84,502.28 77.01,501.7 80.46,500.69 C83.91,499.68 87.35,498.1 90.8,496.54 C94.25,494.98 97.69,493.72 101.14,491.35 C104.59,488.99 108.03,486.28 111.48,482.36 C114.93,478.43 118.37,472.44 121.82,467.82 C125.27,463.21 128.71,458.77 132.16,454.68 C135.61,450.58 139.05,447.01 142.5,443.26 C145.95,439.51 149.39,435.91 152.84,432.19 C156.29,428.46 159.6,424.48 163.18,420.91 C166.76,417.33 170.72,413.99 174.3,410.73 C177.87,407.48 181.32,404.39 184.64,401.39 C187.95,398.39 189.85,395.91 194.2,392.74 C198.55,389.57 204.58,386.11 210.74,382.36 C216.9,378.61 223.58,374.23 231.17,370.25 C238.75,366.27 249.48,361.83 256.24,358.49 C263,355.14 266.58,353.1 271.75,350.18 C276.92,347.27 284.68,342.54 287.26,341.01" fill="none" stroke="#e8101c" stroke-width="1" stroke-linejoin="round"/>
<line x1="132.16" y1="452.95" x2="132.16" y2="455.71" stroke="#e8101c" stroke-width="0.9"/>
<line x1="129.96" y1="452.95" x2="134.36" y2="452.95" stroke="#e8101c" stroke-width="0.9"/>
<line x1="129.96" y1="455.71" x2="134.36" y2="455.71" stroke="#e8101c" stroke-width="0.9"/>
<line x1="163.18" y1="418.17" x2="163.18" y2="423.02" stroke="#e8101c" stroke-width="0.9"/>
<line x1="160.98" y1="418.17" x2="165.38" y2="418.17" stroke="#e8101c" stroke-width="0.9"/>
<line x1="160.98" y1="423.02" x2="165.38" y2="423.02" stroke="#e8101c" stroke-width="0.9"/>
<line x1="194.2" y1="389.63" x2="194.2" y2="395.16" stroke="#e8101c" stroke-width="0.9"/>
<line x1="192" y1="389.63" x2="196.4" y2="389.63" stroke="#e8101c" stroke-width="0.9"/>
<line x1="192" y1="395.16" x2="196.4" y2="395.16" stroke="#e8101c" stroke-width="0.9"/>
<line x1="256.24" y1="354.89" x2="256.24" y2="361.12" stroke="#e8101c" stroke-width="0.9"/>
<line x1="254.04" y1="354.89" x2="258.44" y2="354.89" stroke="#e8101c" stroke-width="0.9"/>
<line x1="254.04" y1="361.12" x2="258.44" y2="361.12" stroke="#e8101c" stroke-width="0.9"/>
<line x1="287.26" y1="339.8" x2="287.26" y2="342.57" stroke="#e8101c" stroke-width="0.9"/>
<line x1="285.06" y1="339.8" x2="289.46" y2="339.8" stroke="#e8101c" stroke-width="0.9"/>
<line x1="285.06" y1="342.57" x2="289.46" y2="342.57" stroke="#e8101c" stroke-width="0.9"/>
<polygon points="101.14,491.82 104.34,497.39 97.94,497.39" fill="#e8101c" stroke="none" stroke-width="1" stroke-linejoin="miter"/>
<polygon points="132.16,450.99 135.36,456.56 128.96,456.56" fill="#e8101c" stroke="none" stroke-width="1" stroke-linejoin="miter"/>
<polygon points="163.18,417.25 166.38,422.82 159.98,422.82" fill="#e8101c" stroke="none" stroke-width="1" stroke-linejoin="miter"/>
<polygon points="194.2,389.06 197.4,394.62 191,394.62" fill="#e8101c" stroke="none" stroke-width="1" stroke-linejoin="miter"/>
<polygon points="256.24,354.66 259.44,360.23 253.04,360.23" fill="#e8101c" stroke="none" stroke-width="1" stroke-linejoin="miter"/>
<polygon points="287.26,337.85 290.46,343.42 284.06,343.42" fill="#e8101c" stroke="none" stroke-width="1" stroke-linejoin="miter"/>
<circle cx="70.12" cy="503.12" r="2.7" fill="#e8101c" stroke="none" stroke-width="1"/>
<line x1="59.1" y1="331.8" x2="80.4" y2="331.8" stroke="#222" stroke-width="0.9"/>
<circle cx="70.2" cy="331.8" r="2.6" fill="#000" stroke="none" stroke-width="1"/>
<text x="84.2" y="334.8" font-size="9.7" textLength="76.8" lengthAdjust="spacingAndGlyphs">1% NaN<tspan font-size="6.5" dy="2.5">3</tspan><tspan dy="-2.5"> treatment</tspan></text>
<line x1="59.1" y1="347.5" x2="80.4" y2="347.5" stroke="#e8101c" stroke-width="0.9"/>
<polygon points="70.2,344.37 73.2,349.59 67.2,349.59" fill="#e8101c" stroke="none" stroke-width="1" stroke-linejoin="miter"/>
<text x="84.2" y="350.7" font-size="9.7" textLength="29.4" lengthAdjust="spacingAndGlyphs">Control</text>
<text x="135.4" y="591" font-size="25">(</text>
<text x="161.3" y="591" font-size="25">)</text>
<text x="0" y="0" font-size="36" font-weight="bold" transform="translate(143 594.6) scale(1.0 1)">c</text>
<rect x="398.5" y="443.25" width="27.4" height="67.65" fill="#ff00ff" stroke="#1a1a40" stroke-width="0.9"/>
<rect x="398.5" y="368.68" width="27.4" height="74.57" fill="#00ffff" stroke="#1a1a40" stroke-width="0.9"/>
<rect x="398.5" y="354.48" width="27.4" height="14.2" fill="#5c5c5c" stroke="#1a1a40" stroke-width="0.9"/>
<line x1="412.2" y1="436.68" x2="412.2" y2="449.82" stroke="#222" stroke-width="0.8"/>
<line x1="410.2" y1="436.68" x2="414.2" y2="436.68" stroke="#222" stroke-width="0.8"/>
<line x1="410.2" y1="449.82" x2="414.2" y2="449.82" stroke="#222" stroke-width="0.8"/>
<line x1="412.2" y1="362.47" x2="412.2" y2="374.9" stroke="#222" stroke-width="0.8"/>
<line x1="410.2" y1="362.47" x2="414.2" y2="362.47" stroke="#222" stroke-width="0.8"/>
<line x1="410.2" y1="374.9" x2="414.2" y2="374.9" stroke="#222" stroke-width="0.8"/>
<line x1="412.2" y1="353.59" x2="412.2" y2="355.37" stroke="#222" stroke-width="0.8"/>
<line x1="410.2" y1="353.59" x2="414.2" y2="353.59" stroke="#222" stroke-width="0.8"/>
<line x1="410.2" y1="355.37" x2="414.2" y2="355.37" stroke="#222" stroke-width="0.8"/>
<text x="412.2" y="347.48" font-size="9.8" text-anchor="middle" textLength="30" lengthAdjust="spacingAndGlyphs">87.12%</text>
<rect x="465.9" y="475.39" width="27.4" height="35.51" fill="#ff00ff" stroke="#1a1a40" stroke-width="0.9"/>
<rect x="465.9" y="447.51" width="27.4" height="27.88" fill="#00ffff" stroke="#1a1a40" stroke-width="0.9"/>
<rect x="465.9" y="439.17" width="27.4" height="8.34" fill="#5c5c5c" stroke="#1a1a40" stroke-width="0.9"/>
<line x1="479.6" y1="472.19" x2="479.6" y2="478.59" stroke="#222" stroke-width="0.8"/>
<line x1="477.6" y1="472.19" x2="481.6" y2="472.19" stroke="#222" stroke-width="0.8"/>
<line x1="477.6" y1="478.59" x2="481.6" y2="478.59" stroke="#222" stroke-width="0.8"/>
<line x1="479.6" y1="445.03" x2="479.6" y2="450" stroke="#222" stroke-width="0.8"/>
<line x1="477.6" y1="445.03" x2="481.6" y2="445.03" stroke="#222" stroke-width="0.8"/>
<line x1="477.6" y1="450" x2="481.6" y2="450" stroke="#222" stroke-width="0.8"/>
<line x1="479.6" y1="438.64" x2="479.6" y2="439.7" stroke="#222" stroke-width="0.8"/>
<line x1="477.6" y1="438.64" x2="481.6" y2="438.64" stroke="#222" stroke-width="0.8"/>
<line x1="477.6" y1="439.7" x2="481.6" y2="439.7" stroke="#222" stroke-width="0.8"/>
<text x="479.6" y="432.17" font-size="9.8" text-anchor="middle" textLength="30" lengthAdjust="spacingAndGlyphs">41.35%</text>
<rect x="533.3" y="417.86" width="27.4" height="93.04" fill="#ff00ff" stroke="#1a1a40" stroke-width="0.9"/>
<rect x="533.3" y="387.5" width="27.4" height="30.36" fill="#00ffff" stroke="#1a1a40" stroke-width="0.9"/>
<rect x="533.3" y="361.05" width="27.4" height="26.45" fill="#5c5c5c" stroke="#1a1a40" stroke-width="0.9"/>
<line x1="547" y1="409.34" x2="547" y2="426.39" stroke="#222" stroke-width="0.8"/>
<line x1="545" y1="409.34" x2="549" y2="409.34" stroke="#222" stroke-width="0.8"/>
<line x1="545" y1="426.39" x2="549" y2="426.39" stroke="#222" stroke-width="0.8"/>
<line x1="547" y1="383.06" x2="547" y2="391.94" stroke="#222" stroke-width="0.8"/>
<line x1="545" y1="383.06" x2="549" y2="383.06" stroke="#222" stroke-width="0.8"/>
<line x1="545" y1="391.94" x2="549" y2="391.94" stroke="#222" stroke-width="0.8"/>
<line x1="547" y1="357.67" x2="547" y2="364.42" stroke="#222" stroke-width="0.8"/>
<line x1="545" y1="357.67" x2="549" y2="357.67" stroke="#222" stroke-width="0.8"/>
<line x1="545" y1="364.42" x2="549" y2="364.42" stroke="#222" stroke-width="0.8"/>
<text x="547" y="354.05" font-size="9.8" text-anchor="middle" textLength="30" lengthAdjust="spacingAndGlyphs">83.51%</text>
<rect x="600.7" y="419.28" width="27.4" height="91.62" fill="#ff00ff" stroke="#1a1a40" stroke-width="0.9"/>
<rect x="600.7" y="401" width="27.4" height="18.29" fill="#00ffff" stroke="#1a1a40" stroke-width="0.9"/>
<rect x="600.7" y="390.88" width="27.4" height="10.12" fill="#5c5c5c" stroke="#1a1a40" stroke-width="0.9"/>
<line x1="614.4" y1="410.94" x2="614.4" y2="427.63" stroke="#222" stroke-width="0.8"/>
<line x1="612.4" y1="410.94" x2="616.4" y2="410.94" stroke="#222" stroke-width="0.8"/>
<line x1="612.4" y1="427.63" x2="616.4" y2="427.63" stroke="#222" stroke-width="0.8"/>
<line x1="614.4" y1="399.4" x2="614.4" y2="402.59" stroke="#222" stroke-width="0.8"/>
<line x1="612.4" y1="399.4" x2="616.4" y2="399.4" stroke="#222" stroke-width="0.8"/>
<line x1="612.4" y1="402.59" x2="616.4" y2="402.59" stroke="#222" stroke-width="0.8"/>
<line x1="614.4" y1="390.34" x2="614.4" y2="391.41" stroke="#222" stroke-width="0.8"/>
<line x1="612.4" y1="390.34" x2="616.4" y2="390.34" stroke="#222" stroke-width="0.8"/>
<line x1="612.4" y1="391.41" x2="616.4" y2="391.41" stroke="#222" stroke-width="0.8"/>
<text x="614.4" y="383.88" font-size="9.8" text-anchor="middle" textLength="30" lengthAdjust="spacingAndGlyphs">67.68%</text>
<rect x="378.5" y="315.8" width="269.1" height="195.1" fill="none" stroke="#333" stroke-width="1.2"/>
<line x1="374.3" y1="510.9" x2="378.5" y2="510.9" stroke="#333" stroke-width="1.2"/>
<text x="372" y="514.6" font-size="11" text-anchor="end">0</text>
<line x1="376.3" y1="493.14" x2="378.5" y2="493.14" stroke="#333" stroke-width="1.2"/>
<line x1="374.3" y1="475.39" x2="378.5" y2="475.39" stroke="#333" stroke-width="1.2"/>
<text x="372" y="479.09" font-size="11" text-anchor="end">20</text>
<line x1="376.3" y1="457.63" x2="378.5" y2="457.63" stroke="#333" stroke-width="1.2"/>
<line x1="374.3" y1="439.88" x2="378.5" y2="439.88" stroke="#333" stroke-width="1.2"/>
<text x="372" y="443.58" font-size="11" text-anchor="end">40</text>
<line x1="376.3" y1="422.12" x2="378.5" y2="422.12" stroke="#333" stroke-width="1.2"/>
<line x1="374.3" y1="404.37" x2="378.5" y2="404.37" stroke="#333" stroke-width="1.2"/>
<text x="372" y="408.07" font-size="11" text-anchor="end">60</text>
<line x1="376.3" y1="386.61" x2="378.5" y2="386.61" stroke="#333" stroke-width="1.2"/>
<line x1="374.3" y1="368.86" x2="378.5" y2="368.86" stroke="#333" stroke-width="1.2"/>
<text x="372" y="372.56" font-size="11" text-anchor="end">80</text>
<line x1="376.3" y1="351.1" x2="378.5" y2="351.1" stroke="#333" stroke-width="1.2"/>
<line x1="374.3" y1="333.35" x2="378.5" y2="333.35" stroke="#333" stroke-width="1.2"/>
<text x="372" y="337.05" font-size="11" text-anchor="end">100</text>
<line x1="376.3" y1="315.59" x2="378.5" y2="315.59" stroke="#333" stroke-width="1.2"/>
<line x1="412.2" y1="510.9" x2="412.2" y2="514.9" stroke="#333" stroke-width="1.2"/>
<text x="412.2" y="526.4" font-size="11.2" text-anchor="middle">CK-0.2</text>
<line x1="445.9" y1="510.9" x2="445.9" y2="513.2" stroke="#333" stroke-width="1.2"/>
<line x1="479.6" y1="510.9" x2="479.6" y2="514.9" stroke="#333" stroke-width="1.2"/>
<text x="479.6" y="526.4" font-size="11.2" text-anchor="middle">NaN3-0.2</text>
<line x1="513.3" y1="510.9" x2="513.3" y2="513.2" stroke="#333" stroke-width="1.2"/>
<line x1="547" y1="510.9" x2="547" y2="514.9" stroke="#333" stroke-width="1.2"/>
<text x="547" y="526.4" font-size="11.2" text-anchor="middle">CK-0.5</text>
<line x1="580.7" y1="510.9" x2="580.7" y2="513.2" stroke="#333" stroke-width="1.2"/>
<line x1="614.4" y1="510.9" x2="614.4" y2="514.9" stroke="#333" stroke-width="1.2"/>
<text x="614.4" y="526.4" font-size="11.2" text-anchor="middle">NaN3-0.5</text>
<line x1="648.1" y1="510.9" x2="648.1" y2="513.2" stroke="#333" stroke-width="1.2"/>
<text x="384.5" y="543.8" font-size="12.4">Periphton treated with/without inhibitor (1% NaN<tspan font-size="8" dy="3">3</tspan><tspan dy="-3">)</tspan></text>
<text x="349.2" y="526.4" font-size="12.3" textLength="211.5" lengthAdjust="spacingAndGlyphs" transform="rotate(-90 349.2 526.4)">MB removal percentage by periphyton (%)</text>
<rect x="585.1" y="318.5" width="21.6" height="9.8" fill="#5c5c5c" stroke="#1a1a40" stroke-width="0.9"/>
<text x="608.9" y="326.5" font-size="9.8">24h - 48h</text>
<rect x="585.1" y="330.4" width="21.6" height="9.8" fill="#00ffff" stroke="#1a1a40" stroke-width="0.9"/>
<text x="608.9" y="338.4" font-size="9.8">6h - 24h</text>
<rect x="585.1" y="342.4" width="21.6" height="9.8" fill="#ff00ff" stroke="#1a1a40" stroke-width="0.9"/>
<text x="608.9" y="350.4" font-size="9.8">0h - 6h</text>
<text x="500.4" y="591" font-size="25">(</text>
<text x="527.9" y="591" font-size="25">)</text>
<text x="0" y="0" font-size="36" font-weight="bold" transform="translate(507.6 594.7) scale(1.0 1)">d</text>
<rect x="42.5" y="628.1" width="269.7" height="198.2" fill="none" stroke="#333" stroke-width="1.2"/>
<line x1="39.9" y1="826.3" x2="42.5" y2="826.3" stroke="#333" stroke-width="1.2"/>
<text x="36.8" y="807.2" font-size="11" text-anchor="end">40</text>
<line x1="39.9" y1="782.3" x2="42.5" y2="782.3" stroke="#333" stroke-width="1.2"/>
<text x="36.8" y="763.2" font-size="11" text-anchor="end">60</text>
<line x1="39.9" y1="738.3" x2="42.5" y2="738.3" stroke="#333" stroke-width="1.2"/>
<text x="36.8" y="719.2" font-size="11" text-anchor="end">80</text>
<line x1="39.9" y1="694.3" x2="42.5" y2="694.3" stroke="#333" stroke-width="1.2"/>
<text x="36.8" y="675.2" font-size="11" text-anchor="end">100</text>
<line x1="39.9" y1="650.3" x2="42.5" y2="650.3" stroke="#333" stroke-width="1.2"/>
<text x="36.8" y="631.2" font-size="11" text-anchor="end">120</text>
<line x1="312" y1="826.3" x2="312" y2="829.8" stroke="#333" stroke-width="1.2"/>
<text x="312" y="842.4" font-size="11.2" text-anchor="middle">0</text>
<line x1="278.3" y1="826.3" x2="278.3" y2="828.5" stroke="#333" stroke-width="1.2"/>
<line x1="244.6" y1="826.3" x2="244.6" y2="829.8" stroke="#333" stroke-width="1.2"/>
<text x="244.6" y="842.4" font-size="11.2" text-anchor="middle">1000</text>
<line x1="210.9" y1="826.3" x2="210.9" y2="828.5" stroke="#333" stroke-width="1.2"/>
<line x1="177.2" y1="826.3" x2="177.2" y2="829.8" stroke="#333" stroke-width="1.2"/>
<text x="177.2" y="842.4" font-size="11.2" text-anchor="middle">2000</text>
<line x1="143.5" y1="826.3" x2="143.5" y2="828.5" stroke="#333" stroke-width="1.2"/>
<line x1="109.8" y1="826.3" x2="109.8" y2="829.8" stroke="#333" stroke-width="1.2"/>
<text x="109.8" y="842.4" font-size="11.2" text-anchor="middle">3000</text>
<line x1="76.1" y1="826.3" x2="76.1" y2="828.5" stroke="#333" stroke-width="1.2"/>
<line x1="42.4" y1="826.3" x2="42.4" y2="829.8" stroke="#333" stroke-width="1.2"/>
<text x="42.4" y="842.4" font-size="11.2" text-anchor="middle">4000</text>
<text x="129.9" y="864.5" font-size="12.4">Wavenumber(cm<tspan font-size="7.5" dy="-5">-1</tspan><tspan dy="5">)</tspan></text>
<text x="14.4" y="734" font-size="12.4" text-anchor="middle" textLength="92" lengthAdjust="spacingAndGlyphs" transform="rotate(-90 14.4 734)">Transmittance (%)</text>
<path d="M43.1,709.69 C42.95,709.69 41.26,709.5 42.23,709.69 C43.2,709.87 46.69,710.06 48.91,710.8 C51.14,711.55 53.74,712.66 55.6,714.15 C57.46,715.63 58.94,717.49 60.06,719.72 C61.17,721.95 61.54,723.99 62.29,727.52 C63.03,731.05 63.77,736.43 64.52,740.89 C65.26,745.35 66,749.43 66.74,754.26 C67.49,759.09 68.04,764.29 68.97,769.86 C69.9,775.43 71.2,782.49 72.32,787.69 C73.43,792.89 74.36,797.54 75.66,801.06 C76.96,804.59 78.82,807.38 80.12,808.86 C81.42,810.35 82.34,810.09 83.46,809.98 C84.57,809.87 85.69,809.31 86.8,808.2 C87.92,807.08 89.03,805.6 90.14,803.29 C91.26,800.99 92.37,798.09 93.49,794.38 C94.6,790.66 95.72,785.46 96.83,781.01 C97.95,776.55 99.06,771.72 100.17,767.63 C101.29,763.55 102.4,759.83 103.52,756.49 C104.63,753.15 105.93,749.8 106.86,747.58 C107.79,745.35 108.42,743.49 109.09,743.12 C109.76,742.75 110.31,743.49 110.87,745.35 C111.43,747.2 111.91,750.55 112.43,754.26 C112.95,757.98 113.58,764.85 113.99,767.63 C114.4,770.42 114.59,772.09 114.88,770.98 C115.18,769.86 115.44,763.73 115.77,760.95 C116.11,758.16 116.44,755.93 116.89,754.26 C117.33,752.59 117.97,752.03 118.45,750.92 C118.93,749.8 119.41,750.73 119.79,747.58 C120.16,744.42 120.16,736.06 120.68,731.98 C121.2,727.89 122.05,725.66 122.91,723.06 C123.76,720.46 124.76,718.42 125.8,716.38 C126.84,714.33 127.85,712.66 129.15,710.8 C130.45,708.95 132.12,706.9 133.6,705.23 C135.09,703.56 136.58,702.07 138.06,700.77 C139.55,699.47 141.03,698.55 142.52,697.43 C144,696.32 145.49,695.2 146.98,694.09 C148.46,692.97 150.32,691.67 151.43,690.75 C152.55,689.82 152.92,688.63 153.66,688.52 C154.4,688.41 154.78,689.52 155.89,690.08 C157,690.63 158.49,691.01 160.35,691.86 C162.2,692.71 164.8,694.53 167.03,695.2 C169.26,695.87 172.48,695.76 173.72,695.87 C174.96,695.98 173.59,695.86 174.46,695.86 C175.32,695.86 177.61,695.6 178.91,695.86 C180.21,696.12 181.14,696.42 182.26,697.42 C183.37,698.43 184.48,699.84 185.6,701.88 C186.71,703.92 188.01,706.89 188.94,709.68 C189.87,712.47 190.54,715.25 191.17,718.59 C191.8,721.94 192.25,726.02 192.73,729.74 C193.21,733.45 193.66,737.16 194.07,740.88 C194.48,744.59 194.81,747.93 195.18,752.02 C195.55,756.1 195.85,760.56 196.3,765.39 C196.74,770.22 197.34,776.16 197.86,780.99 C198.38,785.82 198.93,791.2 199.42,794.36 C199.9,797.52 200.34,799.56 200.75,799.93 C201.16,800.3 201.49,799 201.87,796.59 C202.24,794.17 202.53,789.53 202.98,785.45 C203.43,781.36 204.09,774.68 204.54,772.08 C204.99,769.48 205.28,770.03 205.65,769.85 C206.03,769.66 206.4,769.66 206.77,770.96 C207.14,772.26 207.51,776.72 207.88,777.65 C208.25,778.57 208.63,777.46 209,776.53 C209.37,775.6 209.74,773.19 210.11,772.08 C210.48,770.96 210.85,769.85 211.23,769.85 C211.6,769.85 211.97,770.22 212.34,772.08 C212.71,773.93 213.08,778.39 213.45,780.99 C213.83,783.59 214.2,786 214.57,787.67 C214.94,789.35 215.31,790.83 215.68,791.02 C216.05,791.2 216.43,790.46 216.8,788.79 C217.17,787.12 217.47,783.77 217.91,780.99 C218.36,778.2 218.91,774.68 219.47,772.08 C220.03,769.48 220.66,767.25 221.25,765.39 C221.85,763.53 222.48,762.05 223.04,760.93 C223.59,759.82 224.08,758.89 224.6,758.7 C225.12,758.52 225.67,759.08 226.16,759.82 C226.64,760.56 227.01,762.6 227.49,763.16 C227.98,763.72 228.53,763.72 229.05,763.16 C229.57,762.6 230.17,760.19 230.61,759.82 C231.06,759.45 231.36,759.26 231.73,760.93 C232.1,762.6 232.47,765.76 232.84,769.85 C233.21,773.93 233.55,782.1 233.96,785.45 C234.36,788.79 234.88,787.67 235.29,789.9 C235.7,792.13 235.96,795.1 236.41,798.82 C236.85,802.53 237.45,808.47 237.97,812.19 C238.49,815.9 239.04,819.06 239.53,821.1 C240.01,823.14 240.42,824.07 240.86,824.44 C241.31,824.81 241.75,825 242.2,823.33 C242.65,821.66 243.23,816.08 243.54,814.42 C243.85,812.76 243.73,816.93 244.07,813.37 C244.4,809.81 245.05,800.13 245.54,793.04 C246.04,785.96 246.56,777.03 247.02,770.87 C247.48,764.71 247.88,759.63 248.32,756.09 C248.75,752.54 249.21,751.16 249.61,749.62 C250.01,748.08 250.38,747.62 250.72,746.85 C251.06,746.08 251.33,745.77 251.64,745 C251.95,744.23 252.29,741.61 252.57,742.23 C252.84,742.84 253.03,748.85 253.3,748.7 C253.58,748.54 253.83,743.46 254.23,741.3 C254.63,739.15 255.31,736.53 255.71,735.76 C256.11,734.99 256.32,735.91 256.63,736.68 C256.94,737.45 257.18,738.99 257.55,740.38 C257.92,741.77 258.39,743.61 258.85,745 C259.31,746.39 259.83,747.62 260.33,748.7 C260.82,749.77 261.34,750.23 261.8,751.47 C262.27,752.7 262.73,754.24 263.1,756.09 C263.47,757.93 263.71,761.01 264.02,762.55 C264.33,764.09 264.58,764.71 264.95,765.33 C265.32,765.94 265.78,765.48 266.24,766.25 C266.7,767.02 267.16,768.71 267.72,769.94 C268.27,771.18 268.95,772.25 269.57,773.64 C270.18,775.03 270.86,777.03 271.41,778.26 C271.97,779.49 272.43,780.26 272.89,781.03 C273.35,781.8 273.75,783.03 274.18,782.88 C274.62,782.73 275.02,781.03 275.48,780.11 C275.94,779.18 276.46,778.11 276.96,777.34 C277.45,776.57 277.97,775.64 278.43,775.49 C278.9,775.33 279.36,775.64 279.73,776.41 C280.1,777.18 280.28,779.18 280.65,780.11 C281.02,781.03 281.55,781.8 281.95,781.96 C282.35,782.11 282.65,782.11 283.05,781.03 C283.45,779.95 283.92,777.03 284.35,775.49 C284.78,773.95 285.43,772.41 285.64,771.79" fill="none" stroke="#e52a2a" stroke-width="0.9" stroke-linejoin="round"/>
<path d="M43.1,640.15 C42.95,640.15 40.89,639.78 42.23,640.15 C43.57,640.53 48.73,641.57 51.14,642.38 C53.56,643.2 55.04,643.5 56.71,645.06 C58.39,646.62 60.06,648.77 61.17,651.74 C62.29,654.72 62.66,658.43 63.4,662.89 C64.14,667.34 64.89,672.92 65.63,678.49 C66.37,684.06 67.12,689.63 67.86,696.32 C68.6,703 69.34,711.92 70.09,718.6 C70.83,725.29 71.57,730.86 72.32,736.43 C73.06,742 73.62,746.83 74.54,752.03 C75.47,757.23 76.77,763.47 77.89,767.63 C79,771.79 80.12,775.29 81.23,776.99 C82.34,778.7 83.46,777.89 84.57,777.89 C85.69,777.89 86.88,777.77 87.92,776.99 C88.96,776.21 89.88,775.51 90.81,773.21 C91.74,770.9 92.48,767.45 93.49,763.18 C94.49,758.91 95.72,753.15 96.83,747.58 C97.95,742 99.25,734.02 100.17,729.75 C101.1,725.48 101.66,723.8 102.4,721.95 C103.15,720.09 103.89,720.09 104.63,718.6 C105.37,717.12 106.23,715.26 106.86,713.03 C107.49,710.8 107.94,706.72 108.42,705.23 C108.9,703.75 109.35,703.37 109.76,704.12 C110.17,704.86 110.43,706.9 110.87,709.69 C111.32,712.47 111.99,718.42 112.43,720.83 C112.88,723.25 113.17,721.58 113.55,724.18 C113.92,726.78 114.29,735.5 114.66,736.43 C115.03,737.36 115.4,733.46 115.77,729.75 C116.15,726.03 116.52,717.3 116.89,714.15 C117.26,710.99 117.56,711.73 118,710.8 C118.45,709.87 119.12,710.99 119.56,708.57 C120.01,706.16 120.38,699.47 120.68,696.32 C120.97,693.16 120.97,692.23 121.35,689.63 C121.72,687.03 122.16,683.69 122.91,680.72 C123.65,677.74 124.76,674.22 125.8,671.8 C126.84,669.39 127.85,668.09 129.15,666.23 C130.45,664.37 132.12,662.14 133.6,660.66 C135.09,659.17 136.76,657.87 138.06,657.32 C139.36,656.76 140.29,657.87 141.4,657.32 C142.52,656.76 143.45,654.9 144.75,653.97 C146.05,653.04 147.72,652.19 149.2,651.74 C150.69,651.3 152.18,651.11 153.66,651.3 C155.15,651.48 156.26,652.04 158.12,652.86 C159.98,653.68 162.58,655.09 164.8,656.2 C167.03,657.32 169.88,658.8 171.49,659.54 C173.1,660.29 173.22,660.1 174.46,660.65 C175.69,661.21 177.43,661.95 178.91,662.88 C180.4,663.81 182.07,664.93 183.37,666.23 C184.67,667.53 185.67,668.83 186.71,670.68 C187.75,672.54 188.79,674.58 189.61,677.37 C190.43,680.15 191.06,683.87 191.62,687.4 C192.17,690.92 192.54,694.08 192.95,698.54 C193.36,702.99 193.7,708.57 194.07,714.14 C194.44,719.71 194.81,726.02 195.18,731.96 C195.55,737.91 195.85,743.48 196.3,749.79 C196.74,756.1 197.34,763.9 197.86,769.85 C198.38,775.79 198.93,780.8 199.42,785.45 C199.9,790.09 200.34,796.22 200.75,797.7 C201.16,799.19 201.49,797.14 201.87,794.36 C202.24,791.57 202.61,786.19 202.98,780.99 C203.35,775.79 203.72,767.25 204.09,763.16 C204.47,759.08 204.87,757.22 205.21,756.48 C205.54,755.73 205.77,756.48 206.1,758.7 C206.43,760.93 206.84,767.62 207.21,769.85 C207.59,772.08 207.92,772.26 208.33,772.08 C208.74,771.89 209.26,771.7 209.67,768.73 C210.07,765.76 210.41,758.33 210.78,754.25 C211.15,750.16 211.52,744.96 211.89,744.22 C212.27,743.48 212.64,747.38 213.01,749.79 C213.38,752.21 213.75,756.29 214.12,758.7 C214.49,761.12 214.79,762.98 215.24,764.28 C215.68,765.58 216.35,767.43 216.8,766.5 C217.24,765.58 217.47,761.49 217.91,758.7 C218.36,755.92 218.91,752.76 219.47,749.79 C220.03,746.82 220.66,743.11 221.25,740.88 C221.85,738.65 222.48,737.35 223.04,736.42 C223.59,735.49 224.15,735.86 224.6,735.31 C225.04,734.75 225.26,732.89 225.71,733.08 C226.16,733.26 226.82,735.49 227.27,736.42 C227.72,737.35 227.98,739.02 228.38,738.65 C228.79,738.28 229.24,735.31 229.72,734.19 C230.2,733.08 230.84,730.85 231.28,731.96 C231.73,733.08 232.02,737.16 232.4,740.88 C232.77,744.59 233.14,749.79 233.51,754.25 C233.88,758.7 234.14,763.53 234.62,767.62 C235.11,771.7 235.85,775.42 236.41,778.76 C236.96,782.1 237.45,785.52 237.97,787.67 C238.49,789.83 238.97,790.94 239.53,791.69 C240.08,792.43 240.83,792.43 241.31,792.13 C241.79,791.83 242.05,791.76 242.42,789.9 C242.79,788.05 243.17,784.16 243.54,780.99 C243.9,777.82 244.22,775.02 244.62,770.87 C245.02,766.72 245.45,759.94 245.91,756.09 C246.37,752.24 246.99,749.46 247.39,747.77 C247.79,746.08 248.01,745.77 248.32,745.92 C248.62,746.08 248.93,747.31 249.24,748.7 C249.55,750.08 249.79,752.39 250.16,754.24 C250.53,756.09 251.06,757.93 251.46,759.78 C251.86,761.63 252.26,763.17 252.57,765.33 C252.87,767.48 253.09,772.41 253.3,772.72 C253.52,773.02 253.55,767.94 253.86,767.17 C254.17,766.4 254.69,767.48 255.15,768.1 C255.61,768.71 256.08,769.79 256.63,770.87 C257.18,771.95 257.86,773.33 258.48,774.56 C259.09,775.8 259.71,777.03 260.33,778.26 C260.94,779.49 261.56,780.42 262.17,781.96 C262.79,783.5 263.41,785.96 264.02,787.5 C264.64,789.04 265.25,789.96 265.87,791.19 C266.49,792.43 267.1,793.35 267.72,794.89 C268.33,796.43 268.95,799.2 269.57,800.43 C270.18,801.67 270.8,801.91 271.41,802.28 C272.03,802.65 272.74,802.81 273.26,802.65 C273.78,802.5 274.15,802.65 274.55,801.36 C274.95,800.06 275.26,797.2 275.66,794.89 C276.06,792.58 276.53,789.65 276.96,787.5 C277.39,785.34 277.85,783.65 278.25,781.96 C278.65,780.26 278.96,778.41 279.36,777.34 C279.76,776.26 280.19,775.64 280.65,775.49 C281.11,775.33 281.67,777.03 282.13,776.41 C282.59,775.8 282.99,773.49 283.42,771.79 C283.85,770.1 284.32,767.94 284.72,766.25 C285.12,764.56 285.64,762.4 285.83,761.63" fill="none" stroke="#1a1a1a" stroke-width="0.9" stroke-linejoin="round"/>
<line x1="194.9" y1="644.5" x2="216.8" y2="644.5" stroke="#1a1a1a" stroke-width="1"/>
<text x="222.7" y="648.2" font-size="11.5" textLength="81.7" lengthAdjust="spacingAndGlyphs">Untreated biofilm</text>
<line x1="194.9" y1="658.8" x2="216.8" y2="658.8" stroke="#e52a2a" stroke-width="1"/>
<text x="222.7" y="662.3" font-size="11.5" textLength="77.7" lengthAdjust="spacingAndGlyphs">EPS-free biofilm</text>
<text x="135.4" y="908.4" font-size="25">(</text>
<text x="161.3" y="908.4" font-size="25">)</text>
<text x="0" y="0" font-size="32" font-weight="bold" style='font-family:"Liberation Sans", sans-serif' transform="translate(143.8 912.1) scale(0.85 1)">e</text>
<rect x="378.2" y="628.4" width="268.7" height="197.3" fill="none" stroke="#333" stroke-width="1.2"/>
<line x1="374.2" y1="825.7" x2="378.2" y2="825.7" stroke="#333" stroke-width="1.2"/>
<text x="371" y="828.9" font-size="9.2" text-anchor="end">0</text>
<line x1="376" y1="802.91" x2="378.2" y2="802.91" stroke="#333" stroke-width="1.2"/>
<line x1="374.2" y1="780.12" x2="378.2" y2="780.12" stroke="#333" stroke-width="1.2"/>
<text x="371" y="783.32" font-size="9.2" text-anchor="end">60</text>
<line x1="376" y1="757.34" x2="378.2" y2="757.34" stroke="#333" stroke-width="1.2"/>
<line x1="374.2" y1="734.55" x2="378.2" y2="734.55" stroke="#333" stroke-width="1.2"/>
<text x="371" y="737.75" font-size="9.2" text-anchor="end">120</text>
<line x1="376" y1="711.76" x2="378.2" y2="711.76" stroke="#333" stroke-width="1.2"/>
<line x1="374.2" y1="688.97" x2="378.2" y2="688.97" stroke="#333" stroke-width="1.2"/>
<text x="371" y="692.17" font-size="9.2" text-anchor="end">180</text>
<line x1="376" y1="666.18" x2="378.2" y2="666.18" stroke="#333" stroke-width="1.2"/>
<line x1="374.2" y1="643.4" x2="378.2" y2="643.4" stroke="#333" stroke-width="1.2"/>
<text x="371" y="646.6" font-size="9.2" text-anchor="end">240</text>
<line x1="378.2" y1="825.7" x2="378.2" y2="829.2" stroke="#333" stroke-width="1.2"/>
<text x="378.2" y="839.6" font-size="9.2" text-anchor="middle">0</text>
<line x1="407" y1="825.7" x2="407" y2="827.7" stroke="#333" stroke-width="1.2"/>
<line x1="435.8" y1="825.7" x2="435.8" y2="829.2" stroke="#333" stroke-width="1.2"/>
<text x="435.8" y="839.6" font-size="9.2" text-anchor="middle">15</text>
<line x1="464.6" y1="825.7" x2="464.6" y2="827.7" stroke="#333" stroke-width="1.2"/>
<line x1="493.4" y1="825.7" x2="493.4" y2="829.2" stroke="#333" stroke-width="1.2"/>
<text x="493.4" y="839.6" font-size="9.2" text-anchor="middle">30</text>
<line x1="522.2" y1="825.7" x2="522.2" y2="827.7" stroke="#333" stroke-width="1.2"/>
<line x1="551" y1="825.7" x2="551" y2="829.2" stroke="#333" stroke-width="1.2"/>
<text x="551" y="839.6" font-size="9.2" text-anchor="middle">45</text>
<line x1="579.8" y1="825.7" x2="579.8" y2="827.7" stroke="#333" stroke-width="1.2"/>
<line x1="608.6" y1="825.7" x2="608.6" y2="829.2" stroke="#333" stroke-width="1.2"/>
<text x="608.6" y="839.6" font-size="9.2" text-anchor="middle">60</text>
<line x1="637.4" y1="825.7" x2="637.4" y2="827.7" stroke="#333" stroke-width="1.2"/>
<text x="512.3" y="854.2" font-size="12.4" text-anchor="middle" textLength="115" lengthAdjust="spacingAndGlyphs">Adsorption Time (min)</text>
<text x="0" y="0" font-size="12.9" transform="translate(349.4 752.2) rotate(-90)">q<tspan font-size="8" dy="3">t</tspan><tspan dy="-3">(mg g</tspan><tspan font-size="7.5" dy="-5">-1</tspan><tspan dy="5">)</tspan></text>
<path d="M378.5,825.4 C379.25,821.17 381.75,808.4 383,800 C384.25,791.6 385,783.67 386,775 C387,766.33 388.08,755.17 389,748 C389.92,740.83 390.77,735.87 391.5,732 C392.23,728.13 392.5,726.87 393.4,724.8 C394.3,722.73 395.6,720.9 396.9,719.6 C398.2,718.3 399.25,717.73 401.2,717 C403.15,716.27 406.13,715.93 408.6,715.2 C411.07,714.47 412.11,713.91 416,712.6 C419.89,711.29 428.02,708.28 431.96,707.35 C435.9,706.43 435.8,707.39 439.64,707.05 C443.48,706.71 449.24,706.23 455,705.3 C460.76,704.38 467.8,702.18 474.2,701.51 C480.6,700.83 483.8,701.44 493.4,701.28 C503,701.11 519,701 531.8,700.52 C544.6,700.04 557.4,698.87 570.2,698.39 C583,697.91 602.2,697.76 608.6,697.63" fill="none" stroke="#e8101c" stroke-width="0.9" stroke-linejoin="round"/>
<path d="M378.5,825.4 C379.08,817.83 381.08,794.23 382,780 C382.92,765.77 383.47,751.67 384,740 C384.53,728.33 384.87,717.17 385.2,710 C385.53,702.83 385.37,699.9 386,697 C386.63,694.1 387.77,693.77 389,692.6 C390.23,691.43 391.95,690.87 393.4,690 C394.85,689.13 396.4,688.27 397.7,687.4 C399,686.53 399.75,685.97 401.2,684.8 C402.65,683.63 404.8,681.85 406.4,680.4 C408,678.95 409.35,677.47 410.8,676.1 C412.25,674.73 411.57,673.03 415.1,672.2 C418.63,671.37 427.87,671.68 431.96,671.12 C436.05,670.56 435.8,669.6 439.64,668.84 C443.48,668.08 446.04,667.54 455,666.56 C463.96,665.59 480.6,664.01 493.4,662.99 C506.2,661.98 512.6,662.06 531.8,660.49 C551,658.92 595.8,654.73 608.6,653.57" fill="none" stroke="#e8101c" stroke-width="0.9" stroke-linejoin="round"/>
<path d="M378.5,825.4 C379,816.17 380.67,785.07 381.5,770 C382.33,754.93 382.88,744 383.5,735 C384.12,726 384.72,720.32 385.2,716 C385.68,711.68 385.9,710.97 386.4,709.1 C386.9,707.23 387.47,706.1 388.2,704.8 C388.93,703.5 389.93,702.17 390.8,701.3 C391.67,700.43 392.25,699.92 393.4,699.6 C394.55,699.28 396.4,699.4 397.7,699.4 C399,699.4 399.75,699.78 401.2,699.6 C402.65,699.42 403.93,699.03 406.4,698.3 C408.87,697.57 413.02,695.81 416,695.2 C418.98,694.59 414.58,694.76 424.28,694.67 C433.98,694.58 456.28,695.09 474.2,694.67 C492.12,694.25 515.8,692.64 531.8,692.16 C547.8,691.68 557.4,691.93 570.2,691.78 C583,691.63 602.2,691.34 608.6,691.25" fill="none" stroke="#111" stroke-width="0.9" stroke-linejoin="round"/>
<path d="M378.5,825.4 C379.05,817.83 380.93,795.9 381.8,780 C382.67,764.1 383.28,740.07 383.7,730 C384.12,719.93 384.07,724.23 384.3,719.6 C384.53,714.97 384.82,706.98 385.1,702.2 C385.38,697.42 385.63,694.67 386,690.9 C386.37,687.13 386.8,682.8 387.3,679.6 C387.8,676.4 388.35,673.73 389,671.7 C389.65,669.67 390.32,668.55 391.2,667.4 C392.08,666.25 393.22,665.67 394.3,664.8 C395.38,663.93 396.4,663.15 397.7,662.2 C399,661.25 400.65,659.9 402.1,659.1 C403.55,658.3 404.95,657.78 406.4,657.4 C407.85,657.02 409.2,657.02 410.8,656.8 C412.4,656.58 411.19,656.69 416,656.1 C420.81,655.51 433.14,654.16 439.64,653.27 C446.14,652.38 449.24,651.52 455,650.76 C460.76,650 467.8,649.24 474.2,648.71 C480.6,648.18 483.8,648.75 493.4,647.57 C503,646.4 512.6,643.35 531.8,641.65 C551,639.95 595.8,638.1 608.6,637.4" fill="none" stroke="#111" stroke-width="0.9" stroke-linejoin="round"/>
<line x1="393.56" y1="714.19" x2="393.56" y2="728.62" stroke="#e44" stroke-width="0.9"/>
<line x1="391.36" y1="714.19" x2="395.76" y2="714.19" stroke="#e44" stroke-width="0.9"/>
<line x1="391.36" y1="728.62" x2="395.76" y2="728.62" stroke="#e44" stroke-width="0.9"/>
<line x1="401.24" y1="708.65" x2="401.24" y2="724.6" stroke="#e44" stroke-width="0.9"/>
<line x1="399.04" y1="708.65" x2="403.44" y2="708.65" stroke="#e44" stroke-width="0.9"/>
<line x1="399.04" y1="724.6" x2="403.44" y2="724.6" stroke="#e44" stroke-width="0.9"/>
<line x1="408.92" y1="706.44" x2="408.92" y2="723.15" stroke="#e44" stroke-width="0.9"/>
<line x1="406.72" y1="706.44" x2="411.12" y2="706.44" stroke="#e44" stroke-width="0.9"/>
<line x1="406.72" y1="723.15" x2="411.12" y2="723.15" stroke="#e44" stroke-width="0.9"/>
<line x1="424.28" y1="699.15" x2="424.28" y2="715.86" stroke="#e44" stroke-width="0.9"/>
<line x1="422.08" y1="699.15" x2="426.48" y2="699.15" stroke="#e44" stroke-width="0.9"/>
<line x1="422.08" y1="715.86" x2="426.48" y2="715.86" stroke="#e44" stroke-width="0.9"/>
<line x1="431.96" y1="698.39" x2="431.96" y2="716.62" stroke="#e44" stroke-width="0.9"/>
<line x1="429.76" y1="698.39" x2="434.16" y2="698.39" stroke="#e44" stroke-width="0.9"/>
<line x1="429.76" y1="716.62" x2="434.16" y2="716.62" stroke="#e44" stroke-width="0.9"/>
<line x1="439.64" y1="698.77" x2="439.64" y2="715.48" stroke="#e44" stroke-width="0.9"/>
<line x1="437.44" y1="698.77" x2="441.84" y2="698.77" stroke="#e44" stroke-width="0.9"/>
<line x1="437.44" y1="715.48" x2="441.84" y2="715.48" stroke="#e44" stroke-width="0.9"/>
<line x1="455" y1="696.19" x2="455" y2="714.42" stroke="#e44" stroke-width="0.9"/>
<line x1="452.8" y1="696.19" x2="457.2" y2="696.19" stroke="#e44" stroke-width="0.9"/>
<line x1="452.8" y1="714.42" x2="457.2" y2="714.42" stroke="#e44" stroke-width="0.9"/>
<line x1="474.2" y1="692.16" x2="474.2" y2="710.39" stroke="#e44" stroke-width="0.9"/>
<line x1="472" y1="692.16" x2="476.4" y2="692.16" stroke="#e44" stroke-width="0.9"/>
<line x1="472" y1="710.39" x2="476.4" y2="710.39" stroke="#e44" stroke-width="0.9"/>
<line x1="493.4" y1="692.54" x2="493.4" y2="710.01" stroke="#e44" stroke-width="0.9"/>
<line x1="491.2" y1="692.54" x2="495.6" y2="692.54" stroke="#e44" stroke-width="0.9"/>
<line x1="491.2" y1="710.01" x2="495.6" y2="710.01" stroke="#e44" stroke-width="0.9"/>
<line x1="531.8" y1="692.31" x2="531.8" y2="709.03" stroke="#e44" stroke-width="0.9"/>
<line x1="529.6" y1="692.31" x2="534" y2="692.31" stroke="#e44" stroke-width="0.9"/>
<line x1="529.6" y1="709.03" x2="534" y2="709.03" stroke="#e44" stroke-width="0.9"/>
<line x1="570.2" y1="690.04" x2="570.2" y2="706.75" stroke="#e44" stroke-width="0.9"/>
<line x1="568" y1="690.04" x2="572.4" y2="690.04" stroke="#e44" stroke-width="0.9"/>
<line x1="568" y1="706.75" x2="572.4" y2="706.75" stroke="#e44" stroke-width="0.9"/>
<line x1="608.6" y1="688.52" x2="608.6" y2="706.75" stroke="#e44" stroke-width="0.9"/>
<line x1="606.4" y1="688.52" x2="610.8" y2="688.52" stroke="#e44" stroke-width="0.9"/>
<line x1="606.4" y1="706.75" x2="610.8" y2="706.75" stroke="#e44" stroke-width="0.9"/>
<line x1="385.88" y1="698.47" x2="385.88" y2="712.14" stroke="#333" stroke-width="0.9"/>
<line x1="383.68" y1="698.47" x2="388.08" y2="698.47" stroke="#333" stroke-width="0.9"/>
<line x1="383.68" y1="712.14" x2="388.08" y2="712.14" stroke="#333" stroke-width="0.9"/>
<line x1="393.56" y1="692.09" x2="393.56" y2="705.76" stroke="#333" stroke-width="0.9"/>
<line x1="391.36" y1="692.09" x2="395.76" y2="692.09" stroke="#333" stroke-width="0.9"/>
<line x1="391.36" y1="705.76" x2="395.76" y2="705.76" stroke="#333" stroke-width="0.9"/>
<line x1="401.24" y1="694.37" x2="401.24" y2="703.48" stroke="#333" stroke-width="0.9"/>
<line x1="399.04" y1="694.37" x2="403.44" y2="694.37" stroke="#333" stroke-width="0.9"/>
<line x1="399.04" y1="703.48" x2="403.44" y2="703.48" stroke="#333" stroke-width="0.9"/>
<line x1="416.6" y1="686.31" x2="416.6" y2="703.02" stroke="#333" stroke-width="0.9"/>
<line x1="414.4" y1="686.31" x2="418.8" y2="686.31" stroke="#333" stroke-width="0.9"/>
<line x1="414.4" y1="703.02" x2="418.8" y2="703.02" stroke="#333" stroke-width="0.9"/>
<line x1="424.28" y1="686.31" x2="424.28" y2="703.02" stroke="#333" stroke-width="0.9"/>
<line x1="422.08" y1="686.31" x2="426.48" y2="686.31" stroke="#333" stroke-width="0.9"/>
<line x1="422.08" y1="703.02" x2="426.48" y2="703.02" stroke="#333" stroke-width="0.9"/>
<line x1="474.2" y1="687.83" x2="474.2" y2="701.51" stroke="#333" stroke-width="0.9"/>
<line x1="472" y1="687.83" x2="476.4" y2="687.83" stroke="#333" stroke-width="0.9"/>
<line x1="472" y1="701.51" x2="476.4" y2="701.51" stroke="#333" stroke-width="0.9"/>
<line x1="531.8" y1="683.81" x2="531.8" y2="700.52" stroke="#333" stroke-width="0.9"/>
<line x1="529.6" y1="683.81" x2="534" y2="683.81" stroke="#333" stroke-width="0.9"/>
<line x1="529.6" y1="700.52" x2="534" y2="700.52" stroke="#333" stroke-width="0.9"/>
<line x1="570.2" y1="683.05" x2="570.2" y2="700.52" stroke="#333" stroke-width="0.9"/>
<line x1="568" y1="683.05" x2="572.4" y2="683.05" stroke="#333" stroke-width="0.9"/>
<line x1="568" y1="700.52" x2="572.4" y2="700.52" stroke="#333" stroke-width="0.9"/>
<line x1="608.6" y1="682.52" x2="608.6" y2="699.99" stroke="#333" stroke-width="0.9"/>
<line x1="606.4" y1="682.52" x2="610.8" y2="682.52" stroke="#333" stroke-width="0.9"/>
<line x1="606.4" y1="699.99" x2="610.8" y2="699.99" stroke="#333" stroke-width="0.9"/>
<line x1="385.88" y1="683.81" x2="385.88" y2="700.52" stroke="#e44" stroke-width="0.9"/>
<line x1="383.68" y1="683.81" x2="388.08" y2="683.81" stroke="#e44" stroke-width="0.9"/>
<line x1="383.68" y1="700.52" x2="388.08" y2="700.52" stroke="#e44" stroke-width="0.9"/>
<line x1="393.56" y1="686.09" x2="393.56" y2="694.44" stroke="#e44" stroke-width="0.9"/>
<line x1="391.36" y1="686.09" x2="395.76" y2="686.09" stroke="#e44" stroke-width="0.9"/>
<line x1="391.36" y1="694.44" x2="395.76" y2="694.44" stroke="#e44" stroke-width="0.9"/>
<line x1="401.24" y1="676.51" x2="401.24" y2="693.23" stroke="#e44" stroke-width="0.9"/>
<line x1="399.04" y1="676.51" x2="403.44" y2="676.51" stroke="#e44" stroke-width="0.9"/>
<line x1="399.04" y1="693.23" x2="403.44" y2="693.23" stroke="#e44" stroke-width="0.9"/>
<line x1="416.6" y1="662.54" x2="416.6" y2="682.29" stroke="#e44" stroke-width="0.9"/>
<line x1="414.4" y1="662.54" x2="418.8" y2="662.54" stroke="#e44" stroke-width="0.9"/>
<line x1="414.4" y1="682.29" x2="418.8" y2="682.29" stroke="#e44" stroke-width="0.9"/>
<line x1="431.96" y1="661.63" x2="431.96" y2="681.38" stroke="#e44" stroke-width="0.9"/>
<line x1="429.76" y1="661.63" x2="434.16" y2="661.63" stroke="#e44" stroke-width="0.9"/>
<line x1="429.76" y1="681.38" x2="434.16" y2="681.38" stroke="#e44" stroke-width="0.9"/>
<line x1="439.64" y1="659.12" x2="439.64" y2="677.35" stroke="#e44" stroke-width="0.9"/>
<line x1="437.44" y1="659.12" x2="441.84" y2="659.12" stroke="#e44" stroke-width="0.9"/>
<line x1="437.44" y1="677.35" x2="441.84" y2="677.35" stroke="#e44" stroke-width="0.9"/>
<line x1="455" y1="663.68" x2="455" y2="669.45" stroke="#e44" stroke-width="0.9"/>
<line x1="452.8" y1="663.68" x2="457.2" y2="663.68" stroke="#e44" stroke-width="0.9"/>
<line x1="452.8" y1="669.45" x2="457.2" y2="669.45" stroke="#e44" stroke-width="0.9"/>
<line x1="493.4" y1="653.5" x2="493.4" y2="672.49" stroke="#e44" stroke-width="0.9"/>
<line x1="491.2" y1="653.5" x2="495.6" y2="653.5" stroke="#e44" stroke-width="0.9"/>
<line x1="491.2" y1="672.49" x2="495.6" y2="672.49" stroke="#e44" stroke-width="0.9"/>
<line x1="531.8" y1="650" x2="531.8" y2="671.27" stroke="#e44" stroke-width="0.9"/>
<line x1="529.6" y1="650" x2="534" y2="650" stroke="#e44" stroke-width="0.9"/>
<line x1="529.6" y1="671.27" x2="534" y2="671.27" stroke="#e44" stroke-width="0.9"/>
<line x1="608.6" y1="642.18" x2="608.6" y2="664.97" stroke="#e44" stroke-width="0.9"/>
<line x1="606.4" y1="642.18" x2="610.8" y2="642.18" stroke="#e44" stroke-width="0.9"/>
<line x1="606.4" y1="664.97" x2="610.8" y2="664.97" stroke="#e44" stroke-width="0.9"/>
<line x1="385.88" y1="658.97" x2="385.88" y2="674.16" stroke="#333" stroke-width="0.9"/>
<line x1="383.68" y1="658.97" x2="388.08" y2="658.97" stroke="#333" stroke-width="0.9"/>
<line x1="383.68" y1="674.16" x2="388.08" y2="674.16" stroke="#333" stroke-width="0.9"/>
<line x1="393.56" y1="657.9" x2="393.56" y2="673.1" stroke="#333" stroke-width="0.9"/>
<line x1="391.36" y1="657.9" x2="395.76" y2="657.9" stroke="#333" stroke-width="0.9"/>
<line x1="391.36" y1="673.1" x2="395.76" y2="673.1" stroke="#333" stroke-width="0.9"/>
<line x1="401.24" y1="653.57" x2="401.24" y2="665.73" stroke="#333" stroke-width="0.9"/>
<line x1="399.04" y1="653.57" x2="403.44" y2="653.57" stroke="#333" stroke-width="0.9"/>
<line x1="399.04" y1="665.73" x2="403.44" y2="665.73" stroke="#333" stroke-width="0.9"/>
<line x1="408.92" y1="648.26" x2="408.92" y2="664.97" stroke="#333" stroke-width="0.9"/>
<line x1="406.72" y1="648.26" x2="411.12" y2="648.26" stroke="#333" stroke-width="0.9"/>
<line x1="406.72" y1="664.97" x2="411.12" y2="664.97" stroke="#333" stroke-width="0.9"/>
<line x1="439.64" y1="645.45" x2="439.64" y2="663.68" stroke="#333" stroke-width="0.9"/>
<line x1="437.44" y1="645.45" x2="441.84" y2="645.45" stroke="#333" stroke-width="0.9"/>
<line x1="437.44" y1="663.68" x2="441.84" y2="663.68" stroke="#333" stroke-width="0.9"/>
<line x1="455" y1="642.41" x2="455" y2="659.12" stroke="#333" stroke-width="0.9"/>
<line x1="452.8" y1="642.41" x2="457.2" y2="642.41" stroke="#333" stroke-width="0.9"/>
<line x1="452.8" y1="659.12" x2="457.2" y2="659.12" stroke="#333" stroke-width="0.9"/>
<line x1="474.2" y1="638.99" x2="474.2" y2="656.46" stroke="#333" stroke-width="0.9"/>
<line x1="472" y1="638.99" x2="476.4" y2="638.99" stroke="#333" stroke-width="0.9"/>
<line x1="472" y1="656.46" x2="476.4" y2="656.46" stroke="#333" stroke-width="0.9"/>
<line x1="493.4" y1="636.86" x2="493.4" y2="660.41" stroke="#333" stroke-width="0.9"/>
<line x1="491.2" y1="636.86" x2="495.6" y2="636.86" stroke="#333" stroke-width="0.9"/>
<line x1="491.2" y1="660.41" x2="495.6" y2="660.41" stroke="#333" stroke-width="0.9"/>
<line x1="531.8" y1="632.31" x2="531.8" y2="650.54" stroke="#333" stroke-width="0.9"/>
<line x1="529.6" y1="632.31" x2="534" y2="632.31" stroke="#333" stroke-width="0.9"/>
<line x1="529.6" y1="650.54" x2="534" y2="650.54" stroke="#333" stroke-width="0.9"/>
<line x1="608.6" y1="628.4" x2="608.6" y2="648.03" stroke="#333" stroke-width="0.9"/>
<line x1="606.4" y1="628.4" x2="610.8" y2="628.4" stroke="#333" stroke-width="0.9"/>
<line x1="606.4" y1="648.03" x2="610.8" y2="648.03" stroke="#333" stroke-width="0.9"/>
<polygon points="393.56,718.07 396.76,723.63 390.36,723.63" fill="#fff" stroke="#e8101c" stroke-width="1.1" stroke-linejoin="miter"/>
<polygon points="401.24,713.28 404.44,718.85 398.04,718.85" fill="#fff" stroke="#e8101c" stroke-width="1.1" stroke-linejoin="miter"/>
<polygon points="408.92,711.46 412.12,717.03 405.72,717.03" fill="#fff" stroke="#e8101c" stroke-width="1.1" stroke-linejoin="miter"/>
<polygon points="424.28,704.17 427.48,709.73 421.08,709.73" fill="#fff" stroke="#e8101c" stroke-width="1.1" stroke-linejoin="miter"/>
<polygon points="431.96,704.17 435.16,709.73 428.76,709.73" fill="#fff" stroke="#e8101c" stroke-width="1.1" stroke-linejoin="miter"/>
<polygon points="439.64,703.79 442.84,709.35 436.44,709.35" fill="#fff" stroke="#e8101c" stroke-width="1.1" stroke-linejoin="miter"/>
<polygon points="455,701.96 458.2,707.53 451.8,707.53" fill="#fff" stroke="#e8101c" stroke-width="1.1" stroke-linejoin="miter"/>
<polygon points="474.2,697.94 477.4,703.5 471,703.5" fill="#fff" stroke="#e8101c" stroke-width="1.1" stroke-linejoin="miter"/>
<polygon points="493.4,697.94 496.6,703.5 490.2,703.5" fill="#fff" stroke="#e8101c" stroke-width="1.1" stroke-linejoin="miter"/>
<polygon points="531.8,697.33 535,702.9 528.6,702.9" fill="#fff" stroke="#e8101c" stroke-width="1.1" stroke-linejoin="miter"/>
<polygon points="570.2,695.05 573.4,700.62 567,700.62" fill="#fff" stroke="#e8101c" stroke-width="1.1" stroke-linejoin="miter"/>
<polygon points="608.6,694.29 611.8,699.86 605.4,699.86" fill="#fff" stroke="#e8101c" stroke-width="1.1" stroke-linejoin="miter"/>
<polygon points="385.88,702.28 388.78,707.32 382.98,707.32" fill="#000" stroke="none" stroke-width="1" stroke-linejoin="miter"/>
<polygon points="393.56,695.9 396.46,700.94 390.66,700.94" fill="#000" stroke="none" stroke-width="1" stroke-linejoin="miter"/>
<polygon points="401.24,695.9 404.14,700.94 398.34,700.94" fill="#000" stroke="none" stroke-width="1" stroke-linejoin="miter"/>
<polygon points="416.6,691.64 419.5,696.69 413.7,696.69" fill="#000" stroke="none" stroke-width="1" stroke-linejoin="miter"/>
<polygon points="424.28,691.64 427.18,696.69 421.38,696.69" fill="#000" stroke="none" stroke-width="1" stroke-linejoin="miter"/>
<polygon points="474.2,691.64 477.1,696.69 471.3,696.69" fill="#000" stroke="none" stroke-width="1" stroke-linejoin="miter"/>
<polygon points="531.8,689.13 534.7,694.18 528.9,694.18" fill="#000" stroke="none" stroke-width="1" stroke-linejoin="miter"/>
<polygon points="570.2,688.75 573.1,693.8 567.3,693.8" fill="#000" stroke="none" stroke-width="1" stroke-linejoin="miter"/>
<polygon points="608.6,688.22 611.5,693.27 605.7,693.27" fill="#000" stroke="none" stroke-width="1" stroke-linejoin="miter"/>
<rect x="383.88" y="690.16" width="4" height="4" fill="#fff" stroke="#e8101c" stroke-width="1"/>
<rect x="391.56" y="688.26" width="4" height="4" fill="#fff" stroke="#e8101c" stroke-width="1"/>
<rect x="399.24" y="682.87" width="4" height="4" fill="#fff" stroke="#e8101c" stroke-width="1"/>
<rect x="414.6" y="670.41" width="4" height="4" fill="#fff" stroke="#e8101c" stroke-width="1"/>
<rect x="429.96" y="669.5" width="4" height="4" fill="#fff" stroke="#e8101c" stroke-width="1"/>
<rect x="437.64" y="666.23" width="4" height="4" fill="#fff" stroke="#e8101c" stroke-width="1"/>
<rect x="453" y="664.56" width="4" height="4" fill="#fff" stroke="#e8101c" stroke-width="1"/>
<rect x="491.4" y="660.99" width="4" height="4" fill="#fff" stroke="#e8101c" stroke-width="1"/>
<rect x="529.8" y="658.64" width="4" height="4" fill="#fff" stroke="#e8101c" stroke-width="1"/>
<rect x="606.6" y="651.57" width="4" height="4" fill="#fff" stroke="#e8101c" stroke-width="1"/>
<rect x="383.48" y="664.16" width="4.8" height="4.8" fill="#000" stroke="none" stroke-width="1"/>
<rect x="391.16" y="663.1" width="4.8" height="4.8" fill="#000" stroke="none" stroke-width="1"/>
<rect x="398.84" y="657.25" width="4.8" height="4.8" fill="#000" stroke="none" stroke-width="1"/>
<rect x="406.52" y="654.21" width="4.8" height="4.8" fill="#000" stroke="none" stroke-width="1"/>
<rect x="437.24" y="652.16" width="4.8" height="4.8" fill="#000" stroke="none" stroke-width="1"/>
<rect x="452.6" y="648.36" width="4.8" height="4.8" fill="#000" stroke="none" stroke-width="1"/>
<rect x="471.8" y="645.33" width="4.8" height="4.8" fill="#000" stroke="none" stroke-width="1"/>
<rect x="491" y="646.24" width="4.8" height="4.8" fill="#000" stroke="none" stroke-width="1"/>
<rect x="529.4" y="639.02" width="4.8" height="4.8" fill="#000" stroke="none" stroke-width="1"/>
<rect x="606.2" y="635" width="4.8" height="4.8" fill="#000" stroke="none" stroke-width="1"/>
<line x1="461.8" y1="767.3" x2="477.6" y2="767.3" stroke="#111" stroke-width="0.9"/>
<rect x="467.6" y="765.2" width="4.2" height="4.2" fill="#000" stroke="none" stroke-width="1"/>
<text x="480.2" y="770.7" font-size="9.1" style='font-family:"Liberation Sans", sans-serif' textLength="143" lengthAdjust="spacingAndGlyphs">Untreated periphyton (C<tspan font-size="7" dy="2.2">0</tspan><tspan dy="-2.2">=400mg/L)</tspan></text>
<line x1="461.8" y1="781.3" x2="477.6" y2="781.3" stroke="#e8101c" stroke-width="0.9"/>
<rect x="467.7" y="779.3" width="4" height="4" fill="#fff" stroke="#e8101c" stroke-width="1"/>
<text x="480.2" y="784.7" font-size="9.1" style='font-family:"Liberation Sans", sans-serif' textLength="143" lengthAdjust="spacingAndGlyphs">EPS-free&#160; periphyton (C<tspan font-size="7" dy="2.2">0</tspan><tspan dy="-2.2">=400mg/L)</tspan></text>
<line x1="461.8" y1="795.7" x2="477.6" y2="795.7" stroke="#111" stroke-width="0.9"/>
<polygon points="469.7,792.78 472.5,797.65 466.9,797.65" fill="#000" stroke="none" stroke-width="1" stroke-linejoin="miter"/>
<text x="480.2" y="799.1" font-size="9.1" style='font-family:"Liberation Sans", sans-serif' textLength="143" lengthAdjust="spacingAndGlyphs">Untreated periphyton (C<tspan font-size="7" dy="2.2">0</tspan><tspan dy="-2.2">=200mg/L)</tspan></text>
<line x1="461.8" y1="810.2" x2="477.6" y2="810.2" stroke="#e8101c" stroke-width="0.9"/>
<polygon points="469.7,807.17 472.6,812.22 466.8,812.22" fill="#fff" stroke="#e8101c" stroke-width="1" stroke-linejoin="miter"/>
<text x="480.2" y="813.6" font-size="9.1" style='font-family:"Liberation Sans", sans-serif' textLength="143" lengthAdjust="spacingAndGlyphs">EPS-free&#160; periphyton (C<tspan font-size="7" dy="2.2">0</tspan><tspan dy="-2.2">=200mg/L)</tspan></text>
<text x="500.4" y="911.7" font-size="25">(</text>
<text x="522.7" y="911.7" font-size="25">)</text>
<text x="0" y="0" font-size="36" font-weight="bold" transform="translate(509 914.9) scale(1.2 1)">f</text>
</svg></body></html>
